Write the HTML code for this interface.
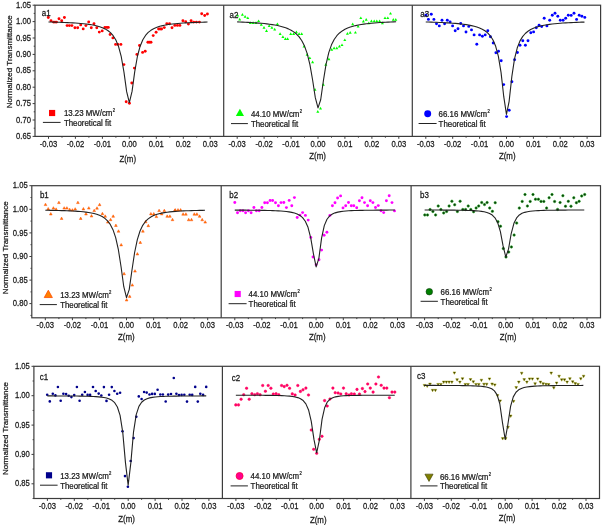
<!DOCTYPE html><html><head><meta charset="utf-8"><style>html,body{margin:0;padding:0;background:#fff;}svg{display:block;filter:blur(0.3px)}</style></head><body>
<svg width="602" height="525" viewBox="0 0 602 525" font-family='"Liberation Sans", sans-serif'>
<rect width="602" height="525" fill="#fff"/>
<text x="9.4" y="61.8" transform="rotate(-90 9.4 61.8)" text-anchor="middle" dominant-baseline="central" font-size="8" fill="#1a1a1a" stroke="#1a1a1a" stroke-width="0.25">Normalized Transmittance</text>
<line x1="32.6" y1="136.4" x2="35.0" y2="136.4" stroke="#3c3c3c" stroke-width="1"/>
<text transform="translate(30.90,136.40) scale(0.87,1.0)" text-anchor="end" dominant-baseline="central" font-size="8.8" fill="#1a1a1a" stroke="#1a1a1a" stroke-width="0.25" >0.65</text>
<line x1="32.6" y1="120.0" x2="35.0" y2="120.0" stroke="#3c3c3c" stroke-width="1"/>
<text transform="translate(30.90,120.00) scale(0.87,1.0)" text-anchor="end" dominant-baseline="central" font-size="8.8" fill="#1a1a1a" stroke="#1a1a1a" stroke-width="0.25" >0.70</text>
<line x1="32.6" y1="103.6" x2="35.0" y2="103.6" stroke="#3c3c3c" stroke-width="1"/>
<text transform="translate(30.90,103.60) scale(0.87,1.0)" text-anchor="end" dominant-baseline="central" font-size="8.8" fill="#1a1a1a" stroke="#1a1a1a" stroke-width="0.25" >0.75</text>
<line x1="32.6" y1="87.2" x2="35.0" y2="87.2" stroke="#3c3c3c" stroke-width="1"/>
<text transform="translate(30.90,87.20) scale(0.87,1.0)" text-anchor="end" dominant-baseline="central" font-size="8.8" fill="#1a1a1a" stroke="#1a1a1a" stroke-width="0.25" >0.80</text>
<line x1="32.6" y1="70.8" x2="35.0" y2="70.8" stroke="#3c3c3c" stroke-width="1"/>
<text transform="translate(30.90,70.80) scale(0.87,1.0)" text-anchor="end" dominant-baseline="central" font-size="8.8" fill="#1a1a1a" stroke="#1a1a1a" stroke-width="0.25" >0.85</text>
<line x1="32.6" y1="54.4" x2="35.0" y2="54.4" stroke="#3c3c3c" stroke-width="1"/>
<text transform="translate(30.90,54.40) scale(0.87,1.0)" text-anchor="end" dominant-baseline="central" font-size="8.8" fill="#1a1a1a" stroke="#1a1a1a" stroke-width="0.25" >0.90</text>
<line x1="32.6" y1="38.0" x2="35.0" y2="38.0" stroke="#3c3c3c" stroke-width="1"/>
<text transform="translate(30.90,38.00) scale(0.87,1.0)" text-anchor="end" dominant-baseline="central" font-size="8.8" fill="#1a1a1a" stroke="#1a1a1a" stroke-width="0.25" >0.95</text>
<line x1="32.6" y1="21.6" x2="35.0" y2="21.6" stroke="#3c3c3c" stroke-width="1"/>
<text transform="translate(30.90,21.60) scale(0.87,1.0)" text-anchor="end" dominant-baseline="central" font-size="8.8" fill="#1a1a1a" stroke="#1a1a1a" stroke-width="0.25" >1.00</text>
<line x1="32.6" y1="5.2" x2="35.0" y2="5.2" stroke="#3c3c3c" stroke-width="1"/>
<text transform="translate(30.90,5.20) scale(0.87,1.0)" text-anchor="end" dominant-baseline="central" font-size="8.8" fill="#1a1a1a" stroke="#1a1a1a" stroke-width="0.25" >1.05</text>
<line x1="33.7" y1="128.2" x2="35.0" y2="128.2" stroke="#3c3c3c" stroke-width="1"/>
<line x1="33.7" y1="111.8" x2="35.0" y2="111.8" stroke="#3c3c3c" stroke-width="1"/>
<line x1="33.7" y1="95.4" x2="35.0" y2="95.4" stroke="#3c3c3c" stroke-width="1"/>
<line x1="33.7" y1="79.0" x2="35.0" y2="79.0" stroke="#3c3c3c" stroke-width="1"/>
<line x1="33.7" y1="62.6" x2="35.0" y2="62.6" stroke="#3c3c3c" stroke-width="1"/>
<line x1="33.7" y1="46.2" x2="35.0" y2="46.2" stroke="#3c3c3c" stroke-width="1"/>
<line x1="33.7" y1="29.8" x2="35.0" y2="29.8" stroke="#3c3c3c" stroke-width="1"/>
<line x1="33.7" y1="13.4" x2="35.0" y2="13.4" stroke="#3c3c3c" stroke-width="1"/>
<line x1="48.5" y1="136.4" x2="48.5" y2="138.8" stroke="#3c3c3c" stroke-width="1"/>
<text transform="translate(48.48,144.10) scale(0.87,1.0)" text-anchor="middle" dominant-baseline="central" font-size="8.8" fill="#1a1a1a" stroke="#1a1a1a" stroke-width="0.25" >-0.03</text>
<line x1="75.4" y1="136.4" x2="75.4" y2="138.8" stroke="#3c3c3c" stroke-width="1"/>
<text transform="translate(75.44,144.10) scale(0.87,1.0)" text-anchor="middle" dominant-baseline="central" font-size="8.8" fill="#1a1a1a" stroke="#1a1a1a" stroke-width="0.25" >-0.02</text>
<line x1="102.4" y1="136.4" x2="102.4" y2="138.8" stroke="#3c3c3c" stroke-width="1"/>
<text transform="translate(102.39,144.10) scale(0.87,1.0)" text-anchor="middle" dominant-baseline="central" font-size="8.8" fill="#1a1a1a" stroke="#1a1a1a" stroke-width="0.25" >-0.01</text>
<line x1="129.3" y1="136.4" x2="129.3" y2="138.8" stroke="#3c3c3c" stroke-width="1"/>
<text transform="translate(129.35,144.10) scale(0.87,1.0)" text-anchor="middle" dominant-baseline="central" font-size="8.8" fill="#1a1a1a" stroke="#1a1a1a" stroke-width="0.25" >0.00</text>
<line x1="156.3" y1="136.4" x2="156.3" y2="138.8" stroke="#3c3c3c" stroke-width="1"/>
<text transform="translate(156.31,144.10) scale(0.87,1.0)" text-anchor="middle" dominant-baseline="central" font-size="8.8" fill="#1a1a1a" stroke="#1a1a1a" stroke-width="0.25" >0.01</text>
<line x1="183.3" y1="136.4" x2="183.3" y2="138.8" stroke="#3c3c3c" stroke-width="1"/>
<text transform="translate(183.26,144.10) scale(0.87,1.0)" text-anchor="middle" dominant-baseline="central" font-size="8.8" fill="#1a1a1a" stroke="#1a1a1a" stroke-width="0.25" >0.02</text>
<line x1="210.2" y1="136.4" x2="210.2" y2="138.8" stroke="#3c3c3c" stroke-width="1"/>
<text transform="translate(210.22,144.10) scale(0.87,1.0)" text-anchor="middle" dominant-baseline="central" font-size="8.8" fill="#1a1a1a" stroke="#1a1a1a" stroke-width="0.25" >0.03</text>
<line x1="62.0" y1="136.4" x2="62.0" y2="137.7" stroke="#3c3c3c" stroke-width="1"/>
<line x1="88.9" y1="136.4" x2="88.9" y2="137.7" stroke="#3c3c3c" stroke-width="1"/>
<line x1="115.9" y1="136.4" x2="115.9" y2="137.7" stroke="#3c3c3c" stroke-width="1"/>
<line x1="142.8" y1="136.4" x2="142.8" y2="137.7" stroke="#3c3c3c" stroke-width="1"/>
<line x1="169.8" y1="136.4" x2="169.8" y2="137.7" stroke="#3c3c3c" stroke-width="1"/>
<line x1="196.7" y1="136.4" x2="196.7" y2="137.7" stroke="#3c3c3c" stroke-width="1"/>
<line x1="237.2" y1="136.4" x2="237.2" y2="138.8" stroke="#3c3c3c" stroke-width="1"/>
<text transform="translate(237.17,144.10) scale(0.87,1.0)" text-anchor="middle" dominant-baseline="central" font-size="8.8" fill="#1a1a1a" stroke="#1a1a1a" stroke-width="0.25" >-0.03</text>
<line x1="264.1" y1="136.4" x2="264.1" y2="138.8" stroke="#3c3c3c" stroke-width="1"/>
<text transform="translate(264.11,144.10) scale(0.87,1.0)" text-anchor="middle" dominant-baseline="central" font-size="8.8" fill="#1a1a1a" stroke="#1a1a1a" stroke-width="0.25" >-0.02</text>
<line x1="291.1" y1="136.4" x2="291.1" y2="138.8" stroke="#3c3c3c" stroke-width="1"/>
<text transform="translate(291.06,144.10) scale(0.87,1.0)" text-anchor="middle" dominant-baseline="central" font-size="8.8" fill="#1a1a1a" stroke="#1a1a1a" stroke-width="0.25" >-0.01</text>
<line x1="318.0" y1="136.4" x2="318.0" y2="138.8" stroke="#3c3c3c" stroke-width="1"/>
<text transform="translate(318.00,144.10) scale(0.87,1.0)" text-anchor="middle" dominant-baseline="central" font-size="8.8" fill="#1a1a1a" stroke="#1a1a1a" stroke-width="0.25" >0.00</text>
<line x1="344.9" y1="136.4" x2="344.9" y2="138.8" stroke="#3c3c3c" stroke-width="1"/>
<text transform="translate(344.94,144.10) scale(0.87,1.0)" text-anchor="middle" dominant-baseline="central" font-size="8.8" fill="#1a1a1a" stroke="#1a1a1a" stroke-width="0.25" >0.01</text>
<line x1="371.9" y1="136.4" x2="371.9" y2="138.8" stroke="#3c3c3c" stroke-width="1"/>
<text transform="translate(371.89,144.10) scale(0.87,1.0)" text-anchor="middle" dominant-baseline="central" font-size="8.8" fill="#1a1a1a" stroke="#1a1a1a" stroke-width="0.25" >0.02</text>
<line x1="398.8" y1="136.4" x2="398.8" y2="138.8" stroke="#3c3c3c" stroke-width="1"/>
<text transform="translate(398.83,144.10) scale(0.87,1.0)" text-anchor="middle" dominant-baseline="central" font-size="8.8" fill="#1a1a1a" stroke="#1a1a1a" stroke-width="0.25" >0.03</text>
<line x1="250.6" y1="136.4" x2="250.6" y2="137.7" stroke="#3c3c3c" stroke-width="1"/>
<line x1="277.6" y1="136.4" x2="277.6" y2="137.7" stroke="#3c3c3c" stroke-width="1"/>
<line x1="304.5" y1="136.4" x2="304.5" y2="137.7" stroke="#3c3c3c" stroke-width="1"/>
<line x1="331.5" y1="136.4" x2="331.5" y2="137.7" stroke="#3c3c3c" stroke-width="1"/>
<line x1="358.4" y1="136.4" x2="358.4" y2="137.7" stroke="#3c3c3c" stroke-width="1"/>
<line x1="385.4" y1="136.4" x2="385.4" y2="137.7" stroke="#3c3c3c" stroke-width="1"/>
<line x1="425.8" y1="136.4" x2="425.8" y2="138.8" stroke="#3c3c3c" stroke-width="1"/>
<text transform="translate(425.75,144.10) scale(0.87,1.0)" text-anchor="middle" dominant-baseline="central" font-size="8.8" fill="#1a1a1a" stroke="#1a1a1a" stroke-width="0.25" >-0.03</text>
<line x1="452.7" y1="136.4" x2="452.7" y2="138.8" stroke="#3c3c3c" stroke-width="1"/>
<text transform="translate(452.65,144.10) scale(0.87,1.0)" text-anchor="middle" dominant-baseline="central" font-size="8.8" fill="#1a1a1a" stroke="#1a1a1a" stroke-width="0.25" >-0.02</text>
<line x1="479.6" y1="136.4" x2="479.6" y2="138.8" stroke="#3c3c3c" stroke-width="1"/>
<text transform="translate(479.55,144.10) scale(0.87,1.0)" text-anchor="middle" dominant-baseline="central" font-size="8.8" fill="#1a1a1a" stroke="#1a1a1a" stroke-width="0.25" >-0.01</text>
<line x1="506.5" y1="136.4" x2="506.5" y2="138.8" stroke="#3c3c3c" stroke-width="1"/>
<text transform="translate(506.45,144.10) scale(0.87,1.0)" text-anchor="middle" dominant-baseline="central" font-size="8.8" fill="#1a1a1a" stroke="#1a1a1a" stroke-width="0.25" >0.00</text>
<line x1="533.4" y1="136.4" x2="533.4" y2="138.8" stroke="#3c3c3c" stroke-width="1"/>
<text transform="translate(533.35,144.10) scale(0.87,1.0)" text-anchor="middle" dominant-baseline="central" font-size="8.8" fill="#1a1a1a" stroke="#1a1a1a" stroke-width="0.25" >0.01</text>
<line x1="560.2" y1="136.4" x2="560.2" y2="138.8" stroke="#3c3c3c" stroke-width="1"/>
<text transform="translate(560.25,144.10) scale(0.87,1.0)" text-anchor="middle" dominant-baseline="central" font-size="8.8" fill="#1a1a1a" stroke="#1a1a1a" stroke-width="0.25" >0.02</text>
<line x1="587.1" y1="136.4" x2="587.1" y2="138.8" stroke="#3c3c3c" stroke-width="1"/>
<text transform="translate(587.15,144.10) scale(0.87,1.0)" text-anchor="middle" dominant-baseline="central" font-size="8.8" fill="#1a1a1a" stroke="#1a1a1a" stroke-width="0.25" >0.03</text>
<line x1="439.2" y1="136.4" x2="439.2" y2="137.7" stroke="#3c3c3c" stroke-width="1"/>
<line x1="466.1" y1="136.4" x2="466.1" y2="137.7" stroke="#3c3c3c" stroke-width="1"/>
<line x1="493.0" y1="136.4" x2="493.0" y2="137.7" stroke="#3c3c3c" stroke-width="1"/>
<line x1="519.9" y1="136.4" x2="519.9" y2="137.7" stroke="#3c3c3c" stroke-width="1"/>
<line x1="546.8" y1="136.4" x2="546.8" y2="137.7" stroke="#3c3c3c" stroke-width="1"/>
<line x1="573.7" y1="136.4" x2="573.7" y2="137.7" stroke="#3c3c3c" stroke-width="1"/>
<text x="5.7" y="247.7" transform="rotate(-90 5.7 247.7)" text-anchor="middle" dominant-baseline="central" font-size="8" fill="#1a1a1a" stroke="#1a1a1a" stroke-width="0.25">Normalized Transmittance</text>
<line x1="29.4" y1="303.6" x2="31.8" y2="303.6" stroke="#3c3c3c" stroke-width="1"/>
<text transform="translate(27.70,303.65) scale(0.87,1.0)" text-anchor="end" dominant-baseline="central" font-size="8.8" fill="#1a1a1a" stroke="#1a1a1a" stroke-width="0.25" >0.80</text>
<line x1="29.4" y1="280.1" x2="31.8" y2="280.1" stroke="#3c3c3c" stroke-width="1"/>
<text transform="translate(27.70,280.06) scale(0.87,1.0)" text-anchor="end" dominant-baseline="central" font-size="8.8" fill="#1a1a1a" stroke="#1a1a1a" stroke-width="0.25" >0.85</text>
<line x1="29.4" y1="256.5" x2="31.8" y2="256.5" stroke="#3c3c3c" stroke-width="1"/>
<text transform="translate(27.70,256.47) scale(0.87,1.0)" text-anchor="end" dominant-baseline="central" font-size="8.8" fill="#1a1a1a" stroke="#1a1a1a" stroke-width="0.25" >0.90</text>
<line x1="29.4" y1="232.9" x2="31.8" y2="232.9" stroke="#3c3c3c" stroke-width="1"/>
<text transform="translate(27.70,232.88) scale(0.87,1.0)" text-anchor="end" dominant-baseline="central" font-size="8.8" fill="#1a1a1a" stroke="#1a1a1a" stroke-width="0.25" >0.95</text>
<line x1="29.4" y1="209.3" x2="31.8" y2="209.3" stroke="#3c3c3c" stroke-width="1"/>
<text transform="translate(27.70,209.29) scale(0.87,1.0)" text-anchor="end" dominant-baseline="central" font-size="8.8" fill="#1a1a1a" stroke="#1a1a1a" stroke-width="0.25" >1.00</text>
<line x1="29.4" y1="185.7" x2="31.8" y2="185.7" stroke="#3c3c3c" stroke-width="1"/>
<text transform="translate(27.70,185.70) scale(0.87,1.0)" text-anchor="end" dominant-baseline="central" font-size="8.8" fill="#1a1a1a" stroke="#1a1a1a" stroke-width="0.25" >1.05</text>
<line x1="30.5" y1="315.4" x2="31.8" y2="315.4" stroke="#3c3c3c" stroke-width="1"/>
<line x1="30.5" y1="291.9" x2="31.8" y2="291.9" stroke="#3c3c3c" stroke-width="1"/>
<line x1="30.5" y1="268.3" x2="31.8" y2="268.3" stroke="#3c3c3c" stroke-width="1"/>
<line x1="30.5" y1="244.7" x2="31.8" y2="244.7" stroke="#3c3c3c" stroke-width="1"/>
<line x1="30.5" y1="221.1" x2="31.8" y2="221.1" stroke="#3c3c3c" stroke-width="1"/>
<line x1="30.5" y1="197.5" x2="31.8" y2="197.5" stroke="#3c3c3c" stroke-width="1"/>
<line x1="45.3" y1="317.8" x2="45.3" y2="320.2" stroke="#3c3c3c" stroke-width="1"/>
<text transform="translate(45.33,325.50) scale(0.87,1.0)" text-anchor="middle" dominant-baseline="central" font-size="8.8" fill="#1a1a1a" stroke="#1a1a1a" stroke-width="0.25" >-0.03</text>
<line x1="72.4" y1="317.8" x2="72.4" y2="320.2" stroke="#3c3c3c" stroke-width="1"/>
<text transform="translate(72.39,325.50) scale(0.87,1.0)" text-anchor="middle" dominant-baseline="central" font-size="8.8" fill="#1a1a1a" stroke="#1a1a1a" stroke-width="0.25" >-0.02</text>
<line x1="99.4" y1="317.8" x2="99.4" y2="320.2" stroke="#3c3c3c" stroke-width="1"/>
<text transform="translate(99.44,325.50) scale(0.87,1.0)" text-anchor="middle" dominant-baseline="central" font-size="8.8" fill="#1a1a1a" stroke="#1a1a1a" stroke-width="0.25" >-0.01</text>
<line x1="126.5" y1="317.8" x2="126.5" y2="320.2" stroke="#3c3c3c" stroke-width="1"/>
<text transform="translate(126.50,325.50) scale(0.87,1.0)" text-anchor="middle" dominant-baseline="central" font-size="8.8" fill="#1a1a1a" stroke="#1a1a1a" stroke-width="0.25" >0.00</text>
<line x1="153.6" y1="317.8" x2="153.6" y2="320.2" stroke="#3c3c3c" stroke-width="1"/>
<text transform="translate(153.56,325.50) scale(0.87,1.0)" text-anchor="middle" dominant-baseline="central" font-size="8.8" fill="#1a1a1a" stroke="#1a1a1a" stroke-width="0.25" >0.01</text>
<line x1="180.6" y1="317.8" x2="180.6" y2="320.2" stroke="#3c3c3c" stroke-width="1"/>
<text transform="translate(180.61,325.50) scale(0.87,1.0)" text-anchor="middle" dominant-baseline="central" font-size="8.8" fill="#1a1a1a" stroke="#1a1a1a" stroke-width="0.25" >0.02</text>
<line x1="207.7" y1="317.8" x2="207.7" y2="320.2" stroke="#3c3c3c" stroke-width="1"/>
<text transform="translate(207.67,325.50) scale(0.87,1.0)" text-anchor="middle" dominant-baseline="central" font-size="8.8" fill="#1a1a1a" stroke="#1a1a1a" stroke-width="0.25" >0.03</text>
<line x1="58.9" y1="317.8" x2="58.9" y2="319.1" stroke="#3c3c3c" stroke-width="1"/>
<line x1="85.9" y1="317.8" x2="85.9" y2="319.1" stroke="#3c3c3c" stroke-width="1"/>
<line x1="113.0" y1="317.8" x2="113.0" y2="319.1" stroke="#3c3c3c" stroke-width="1"/>
<line x1="140.0" y1="317.8" x2="140.0" y2="319.1" stroke="#3c3c3c" stroke-width="1"/>
<line x1="167.1" y1="317.8" x2="167.1" y2="319.1" stroke="#3c3c3c" stroke-width="1"/>
<line x1="194.1" y1="317.8" x2="194.1" y2="319.1" stroke="#3c3c3c" stroke-width="1"/>
<line x1="234.8" y1="317.8" x2="234.8" y2="320.2" stroke="#3c3c3c" stroke-width="1"/>
<text transform="translate(234.76,325.50) scale(0.87,1.0)" text-anchor="middle" dominant-baseline="central" font-size="8.8" fill="#1a1a1a" stroke="#1a1a1a" stroke-width="0.25" >-0.03</text>
<line x1="261.9" y1="317.8" x2="261.9" y2="320.2" stroke="#3c3c3c" stroke-width="1"/>
<text transform="translate(261.89,325.50) scale(0.87,1.0)" text-anchor="middle" dominant-baseline="central" font-size="8.8" fill="#1a1a1a" stroke="#1a1a1a" stroke-width="0.25" >-0.02</text>
<line x1="289.0" y1="317.8" x2="289.0" y2="320.2" stroke="#3c3c3c" stroke-width="1"/>
<text transform="translate(289.02,325.50) scale(0.87,1.0)" text-anchor="middle" dominant-baseline="central" font-size="8.8" fill="#1a1a1a" stroke="#1a1a1a" stroke-width="0.25" >-0.01</text>
<line x1="316.1" y1="317.8" x2="316.1" y2="320.2" stroke="#3c3c3c" stroke-width="1"/>
<text transform="translate(316.15,325.50) scale(0.87,1.0)" text-anchor="middle" dominant-baseline="central" font-size="8.8" fill="#1a1a1a" stroke="#1a1a1a" stroke-width="0.25" >0.00</text>
<line x1="343.3" y1="317.8" x2="343.3" y2="320.2" stroke="#3c3c3c" stroke-width="1"/>
<text transform="translate(343.28,325.50) scale(0.87,1.0)" text-anchor="middle" dominant-baseline="central" font-size="8.8" fill="#1a1a1a" stroke="#1a1a1a" stroke-width="0.25" >0.01</text>
<line x1="370.4" y1="317.8" x2="370.4" y2="320.2" stroke="#3c3c3c" stroke-width="1"/>
<text transform="translate(370.41,325.50) scale(0.87,1.0)" text-anchor="middle" dominant-baseline="central" font-size="8.8" fill="#1a1a1a" stroke="#1a1a1a" stroke-width="0.25" >0.02</text>
<line x1="397.5" y1="317.8" x2="397.5" y2="320.2" stroke="#3c3c3c" stroke-width="1"/>
<text transform="translate(397.54,325.50) scale(0.87,1.0)" text-anchor="middle" dominant-baseline="central" font-size="8.8" fill="#1a1a1a" stroke="#1a1a1a" stroke-width="0.25" >0.03</text>
<line x1="248.3" y1="317.8" x2="248.3" y2="319.1" stroke="#3c3c3c" stroke-width="1"/>
<line x1="275.5" y1="317.8" x2="275.5" y2="319.1" stroke="#3c3c3c" stroke-width="1"/>
<line x1="302.6" y1="317.8" x2="302.6" y2="319.1" stroke="#3c3c3c" stroke-width="1"/>
<line x1="329.7" y1="317.8" x2="329.7" y2="319.1" stroke="#3c3c3c" stroke-width="1"/>
<line x1="356.8" y1="317.8" x2="356.8" y2="319.1" stroke="#3c3c3c" stroke-width="1"/>
<line x1="384.0" y1="317.8" x2="384.0" y2="319.1" stroke="#3c3c3c" stroke-width="1"/>
<line x1="424.6" y1="317.8" x2="424.6" y2="320.2" stroke="#3c3c3c" stroke-width="1"/>
<text transform="translate(424.63,325.50) scale(0.87,1.0)" text-anchor="middle" dominant-baseline="central" font-size="8.8" fill="#1a1a1a" stroke="#1a1a1a" stroke-width="0.25" >-0.03</text>
<line x1="451.7" y1="317.8" x2="451.7" y2="320.2" stroke="#3c3c3c" stroke-width="1"/>
<text transform="translate(451.69,325.50) scale(0.87,1.0)" text-anchor="middle" dominant-baseline="central" font-size="8.8" fill="#1a1a1a" stroke="#1a1a1a" stroke-width="0.25" >-0.02</text>
<line x1="478.7" y1="317.8" x2="478.7" y2="320.2" stroke="#3c3c3c" stroke-width="1"/>
<text transform="translate(478.74,325.50) scale(0.87,1.0)" text-anchor="middle" dominant-baseline="central" font-size="8.8" fill="#1a1a1a" stroke="#1a1a1a" stroke-width="0.25" >-0.01</text>
<line x1="505.8" y1="317.8" x2="505.8" y2="320.2" stroke="#3c3c3c" stroke-width="1"/>
<text transform="translate(505.80,325.50) scale(0.87,1.0)" text-anchor="middle" dominant-baseline="central" font-size="8.8" fill="#1a1a1a" stroke="#1a1a1a" stroke-width="0.25" >0.00</text>
<line x1="532.9" y1="317.8" x2="532.9" y2="320.2" stroke="#3c3c3c" stroke-width="1"/>
<text transform="translate(532.86,325.50) scale(0.87,1.0)" text-anchor="middle" dominant-baseline="central" font-size="8.8" fill="#1a1a1a" stroke="#1a1a1a" stroke-width="0.25" >0.01</text>
<line x1="559.9" y1="317.8" x2="559.9" y2="320.2" stroke="#3c3c3c" stroke-width="1"/>
<text transform="translate(559.91,325.50) scale(0.87,1.0)" text-anchor="middle" dominant-baseline="central" font-size="8.8" fill="#1a1a1a" stroke="#1a1a1a" stroke-width="0.25" >0.02</text>
<line x1="587.0" y1="317.8" x2="587.0" y2="320.2" stroke="#3c3c3c" stroke-width="1"/>
<text transform="translate(586.97,325.50) scale(0.87,1.0)" text-anchor="middle" dominant-baseline="central" font-size="8.8" fill="#1a1a1a" stroke="#1a1a1a" stroke-width="0.25" >0.03</text>
<line x1="438.2" y1="317.8" x2="438.2" y2="319.1" stroke="#3c3c3c" stroke-width="1"/>
<line x1="465.2" y1="317.8" x2="465.2" y2="319.1" stroke="#3c3c3c" stroke-width="1"/>
<line x1="492.3" y1="317.8" x2="492.3" y2="319.1" stroke="#3c3c3c" stroke-width="1"/>
<line x1="519.3" y1="317.8" x2="519.3" y2="319.1" stroke="#3c3c3c" stroke-width="1"/>
<line x1="546.4" y1="317.8" x2="546.4" y2="319.1" stroke="#3c3c3c" stroke-width="1"/>
<line x1="573.4" y1="317.8" x2="573.4" y2="319.1" stroke="#3c3c3c" stroke-width="1"/>
<text x="5.3" y="428.6" transform="rotate(-90 5.3 428.6)" text-anchor="middle" dominant-baseline="central" font-size="8" fill="#1a1a1a" stroke="#1a1a1a" stroke-width="0.25">Normalized Transmittance</text>
<line x1="31.5" y1="483.8" x2="33.9" y2="483.8" stroke="#3c3c3c" stroke-width="1"/>
<text transform="translate(29.80,483.81) scale(0.87,1.0)" text-anchor="end" dominant-baseline="central" font-size="8.8" fill="#1a1a1a" stroke="#1a1a1a" stroke-width="0.25" >0.85</text>
<line x1="31.5" y1="454.4" x2="33.9" y2="454.4" stroke="#3c3c3c" stroke-width="1"/>
<text transform="translate(29.80,454.43) scale(0.87,1.0)" text-anchor="end" dominant-baseline="central" font-size="8.8" fill="#1a1a1a" stroke="#1a1a1a" stroke-width="0.25" >0.90</text>
<line x1="31.5" y1="425.1" x2="33.9" y2="425.1" stroke="#3c3c3c" stroke-width="1"/>
<text transform="translate(29.80,425.06) scale(0.87,1.0)" text-anchor="end" dominant-baseline="central" font-size="8.8" fill="#1a1a1a" stroke="#1a1a1a" stroke-width="0.25" >0.95</text>
<line x1="31.5" y1="395.7" x2="33.9" y2="395.7" stroke="#3c3c3c" stroke-width="1"/>
<text transform="translate(29.80,395.68) scale(0.87,1.0)" text-anchor="end" dominant-baseline="central" font-size="8.8" fill="#1a1a1a" stroke="#1a1a1a" stroke-width="0.25" >1.00</text>
<line x1="31.5" y1="366.3" x2="33.9" y2="366.3" stroke="#3c3c3c" stroke-width="1"/>
<text transform="translate(29.80,366.30) scale(0.87,1.0)" text-anchor="end" dominant-baseline="central" font-size="8.8" fill="#1a1a1a" stroke="#1a1a1a" stroke-width="0.25" >1.05</text>
<line x1="32.6" y1="498.5" x2="33.9" y2="498.5" stroke="#3c3c3c" stroke-width="1"/>
<line x1="32.6" y1="469.1" x2="33.9" y2="469.1" stroke="#3c3c3c" stroke-width="1"/>
<line x1="32.6" y1="439.7" x2="33.9" y2="439.7" stroke="#3c3c3c" stroke-width="1"/>
<line x1="32.6" y1="410.4" x2="33.9" y2="410.4" stroke="#3c3c3c" stroke-width="1"/>
<line x1="32.6" y1="381.0" x2="33.9" y2="381.0" stroke="#3c3c3c" stroke-width="1"/>
<line x1="47.4" y1="498.5" x2="47.4" y2="500.9" stroke="#3c3c3c" stroke-width="1"/>
<text transform="translate(47.36,506.00) scale(0.87,1.0)" text-anchor="middle" dominant-baseline="central" font-size="8.8" fill="#1a1a1a" stroke="#1a1a1a" stroke-width="0.25" >-0.03</text>
<line x1="74.3" y1="498.5" x2="74.3" y2="500.9" stroke="#3c3c3c" stroke-width="1"/>
<text transform="translate(74.29,506.00) scale(0.87,1.0)" text-anchor="middle" dominant-baseline="central" font-size="8.8" fill="#1a1a1a" stroke="#1a1a1a" stroke-width="0.25" >-0.02</text>
<line x1="101.2" y1="498.5" x2="101.2" y2="500.9" stroke="#3c3c3c" stroke-width="1"/>
<text transform="translate(101.22,506.00) scale(0.87,1.0)" text-anchor="middle" dominant-baseline="central" font-size="8.8" fill="#1a1a1a" stroke="#1a1a1a" stroke-width="0.25" >-0.01</text>
<line x1="128.2" y1="498.5" x2="128.2" y2="500.9" stroke="#3c3c3c" stroke-width="1"/>
<text transform="translate(128.15,506.00) scale(0.87,1.0)" text-anchor="middle" dominant-baseline="central" font-size="8.8" fill="#1a1a1a" stroke="#1a1a1a" stroke-width="0.25" >0.00</text>
<line x1="155.1" y1="498.5" x2="155.1" y2="500.9" stroke="#3c3c3c" stroke-width="1"/>
<text transform="translate(155.08,506.00) scale(0.87,1.0)" text-anchor="middle" dominant-baseline="central" font-size="8.8" fill="#1a1a1a" stroke="#1a1a1a" stroke-width="0.25" >0.01</text>
<line x1="182.0" y1="498.5" x2="182.0" y2="500.9" stroke="#3c3c3c" stroke-width="1"/>
<text transform="translate(182.01,506.00) scale(0.87,1.0)" text-anchor="middle" dominant-baseline="central" font-size="8.8" fill="#1a1a1a" stroke="#1a1a1a" stroke-width="0.25" >0.02</text>
<line x1="208.9" y1="498.5" x2="208.9" y2="500.9" stroke="#3c3c3c" stroke-width="1"/>
<text transform="translate(208.94,506.00) scale(0.87,1.0)" text-anchor="middle" dominant-baseline="central" font-size="8.8" fill="#1a1a1a" stroke="#1a1a1a" stroke-width="0.25" >0.03</text>
<line x1="60.8" y1="498.5" x2="60.8" y2="499.8" stroke="#3c3c3c" stroke-width="1"/>
<line x1="87.8" y1="498.5" x2="87.8" y2="499.8" stroke="#3c3c3c" stroke-width="1"/>
<line x1="114.7" y1="498.5" x2="114.7" y2="499.8" stroke="#3c3c3c" stroke-width="1"/>
<line x1="141.6" y1="498.5" x2="141.6" y2="499.8" stroke="#3c3c3c" stroke-width="1"/>
<line x1="168.5" y1="498.5" x2="168.5" y2="499.8" stroke="#3c3c3c" stroke-width="1"/>
<line x1="195.5" y1="498.5" x2="195.5" y2="499.8" stroke="#3c3c3c" stroke-width="1"/>
<line x1="235.9" y1="498.5" x2="235.9" y2="500.9" stroke="#3c3c3c" stroke-width="1"/>
<text transform="translate(235.86,506.00) scale(0.87,1.0)" text-anchor="middle" dominant-baseline="central" font-size="8.8" fill="#1a1a1a" stroke="#1a1a1a" stroke-width="0.25" >-0.03</text>
<line x1="262.8" y1="498.5" x2="262.8" y2="500.9" stroke="#3c3c3c" stroke-width="1"/>
<text transform="translate(262.79,506.00) scale(0.87,1.0)" text-anchor="middle" dominant-baseline="central" font-size="8.8" fill="#1a1a1a" stroke="#1a1a1a" stroke-width="0.25" >-0.02</text>
<line x1="289.7" y1="498.5" x2="289.7" y2="500.9" stroke="#3c3c3c" stroke-width="1"/>
<text transform="translate(289.72,506.00) scale(0.87,1.0)" text-anchor="middle" dominant-baseline="central" font-size="8.8" fill="#1a1a1a" stroke="#1a1a1a" stroke-width="0.25" >-0.01</text>
<line x1="316.6" y1="498.5" x2="316.6" y2="500.9" stroke="#3c3c3c" stroke-width="1"/>
<text transform="translate(316.65,506.00) scale(0.87,1.0)" text-anchor="middle" dominant-baseline="central" font-size="8.8" fill="#1a1a1a" stroke="#1a1a1a" stroke-width="0.25" >0.00</text>
<line x1="343.6" y1="498.5" x2="343.6" y2="500.9" stroke="#3c3c3c" stroke-width="1"/>
<text transform="translate(343.58,506.00) scale(0.87,1.0)" text-anchor="middle" dominant-baseline="central" font-size="8.8" fill="#1a1a1a" stroke="#1a1a1a" stroke-width="0.25" >0.01</text>
<line x1="370.5" y1="498.5" x2="370.5" y2="500.9" stroke="#3c3c3c" stroke-width="1"/>
<text transform="translate(370.51,506.00) scale(0.87,1.0)" text-anchor="middle" dominant-baseline="central" font-size="8.8" fill="#1a1a1a" stroke="#1a1a1a" stroke-width="0.25" >0.02</text>
<line x1="397.4" y1="498.5" x2="397.4" y2="500.9" stroke="#3c3c3c" stroke-width="1"/>
<text transform="translate(397.44,506.00) scale(0.87,1.0)" text-anchor="middle" dominant-baseline="central" font-size="8.8" fill="#1a1a1a" stroke="#1a1a1a" stroke-width="0.25" >0.03</text>
<line x1="249.3" y1="498.5" x2="249.3" y2="499.8" stroke="#3c3c3c" stroke-width="1"/>
<line x1="276.3" y1="498.5" x2="276.3" y2="499.8" stroke="#3c3c3c" stroke-width="1"/>
<line x1="303.2" y1="498.5" x2="303.2" y2="499.8" stroke="#3c3c3c" stroke-width="1"/>
<line x1="330.1" y1="498.5" x2="330.1" y2="499.8" stroke="#3c3c3c" stroke-width="1"/>
<line x1="357.0" y1="498.5" x2="357.0" y2="499.8" stroke="#3c3c3c" stroke-width="1"/>
<line x1="384.0" y1="498.5" x2="384.0" y2="499.8" stroke="#3c3c3c" stroke-width="1"/>
<line x1="424.4" y1="498.5" x2="424.4" y2="500.9" stroke="#3c3c3c" stroke-width="1"/>
<text transform="translate(424.37,506.00) scale(0.87,1.0)" text-anchor="middle" dominant-baseline="central" font-size="8.8" fill="#1a1a1a" stroke="#1a1a1a" stroke-width="0.25" >-0.03</text>
<line x1="451.3" y1="498.5" x2="451.3" y2="500.9" stroke="#3c3c3c" stroke-width="1"/>
<text transform="translate(451.31,506.00) scale(0.87,1.0)" text-anchor="middle" dominant-baseline="central" font-size="8.8" fill="#1a1a1a" stroke="#1a1a1a" stroke-width="0.25" >-0.02</text>
<line x1="478.3" y1="498.5" x2="478.3" y2="500.9" stroke="#3c3c3c" stroke-width="1"/>
<text transform="translate(478.26,506.00) scale(0.87,1.0)" text-anchor="middle" dominant-baseline="central" font-size="8.8" fill="#1a1a1a" stroke="#1a1a1a" stroke-width="0.25" >-0.01</text>
<line x1="505.2" y1="498.5" x2="505.2" y2="500.9" stroke="#3c3c3c" stroke-width="1"/>
<text transform="translate(505.20,506.00) scale(0.87,1.0)" text-anchor="middle" dominant-baseline="central" font-size="8.8" fill="#1a1a1a" stroke="#1a1a1a" stroke-width="0.25" >0.00</text>
<line x1="532.1" y1="498.5" x2="532.1" y2="500.9" stroke="#3c3c3c" stroke-width="1"/>
<text transform="translate(532.14,506.00) scale(0.87,1.0)" text-anchor="middle" dominant-baseline="central" font-size="8.8" fill="#1a1a1a" stroke="#1a1a1a" stroke-width="0.25" >0.01</text>
<line x1="559.1" y1="498.5" x2="559.1" y2="500.9" stroke="#3c3c3c" stroke-width="1"/>
<text transform="translate(559.09,506.00) scale(0.87,1.0)" text-anchor="middle" dominant-baseline="central" font-size="8.8" fill="#1a1a1a" stroke="#1a1a1a" stroke-width="0.25" >0.02</text>
<line x1="586.0" y1="498.5" x2="586.0" y2="500.9" stroke="#3c3c3c" stroke-width="1"/>
<text transform="translate(586.03,506.00) scale(0.87,1.0)" text-anchor="middle" dominant-baseline="central" font-size="8.8" fill="#1a1a1a" stroke="#1a1a1a" stroke-width="0.25" >0.03</text>
<line x1="437.8" y1="498.5" x2="437.8" y2="499.8" stroke="#3c3c3c" stroke-width="1"/>
<line x1="464.8" y1="498.5" x2="464.8" y2="499.8" stroke="#3c3c3c" stroke-width="1"/>
<line x1="491.7" y1="498.5" x2="491.7" y2="499.8" stroke="#3c3c3c" stroke-width="1"/>
<line x1="518.7" y1="498.5" x2="518.7" y2="499.8" stroke="#3c3c3c" stroke-width="1"/>
<line x1="545.6" y1="498.5" x2="545.6" y2="499.8" stroke="#3c3c3c" stroke-width="1"/>
<line x1="572.6" y1="498.5" x2="572.6" y2="499.8" stroke="#3c3c3c" stroke-width="1"/>
<circle cx="48.3" cy="17.5" r="1.45" fill="#ff0000"/>
<circle cx="51.0" cy="20.8" r="1.45" fill="#ff0000"/>
<circle cx="53.5" cy="22.1" r="1.45" fill="#ff0000"/>
<circle cx="55.0" cy="22.1" r="1.45" fill="#ff0000"/>
<circle cx="56.5" cy="22.1" r="1.45" fill="#ff0000"/>
<circle cx="59.0" cy="18.8" r="1.45" fill="#ff0000"/>
<circle cx="61.7" cy="20.8" r="1.45" fill="#ff0000"/>
<circle cx="64.4" cy="17.5" r="1.45" fill="#ff0000"/>
<circle cx="67.1" cy="25.6" r="1.45" fill="#ff0000"/>
<circle cx="69.4" cy="25.6" r="1.45" fill="#ff0000"/>
<circle cx="71.9" cy="25.6" r="1.45" fill="#ff0000"/>
<circle cx="74.9" cy="27.7" r="1.45" fill="#ff0000"/>
<circle cx="77.7" cy="27.7" r="1.45" fill="#ff0000"/>
<circle cx="80.7" cy="24.9" r="1.45" fill="#ff0000"/>
<circle cx="83.2" cy="28.9" r="1.45" fill="#ff0000"/>
<circle cx="85.9" cy="25.6" r="1.45" fill="#ff0000"/>
<circle cx="88.7" cy="21.9" r="1.45" fill="#ff0000"/>
<circle cx="91.3" cy="27.7" r="1.45" fill="#ff0000"/>
<circle cx="94.0" cy="23.7" r="1.45" fill="#ff0000"/>
<circle cx="96.8" cy="27.7" r="1.45" fill="#ff0000"/>
<circle cx="99.3" cy="32.1" r="1.45" fill="#ff0000"/>
<circle cx="102.2" cy="30.9" r="1.45" fill="#ff0000"/>
<circle cx="104.9" cy="27.4" r="1.45" fill="#ff0000"/>
<circle cx="106.8" cy="27.4" r="1.45" fill="#ff0000"/>
<circle cx="108.3" cy="27.4" r="1.45" fill="#ff0000"/>
<circle cx="110.1" cy="34.5" r="1.45" fill="#ff0000"/>
<circle cx="112.9" cy="37.9" r="1.45" fill="#ff0000"/>
<circle cx="115.6" cy="44.4" r="1.45" fill="#ff0000"/>
<circle cx="117.9" cy="44.4" r="1.45" fill="#ff0000"/>
<circle cx="120.9" cy="44.4" r="1.45" fill="#ff0000"/>
<circle cx="123.9" cy="64.6" r="1.45" fill="#ff0000"/>
<circle cx="126.2" cy="101.8" r="1.45" fill="#ff0000"/>
<circle cx="129.4" cy="103.2" r="1.45" fill="#ff0000"/>
<circle cx="131.8" cy="83.0" r="1.45" fill="#ff0000"/>
<circle cx="134.4" cy="68.1" r="1.45" fill="#ff0000"/>
<circle cx="136.9" cy="54.4" r="1.45" fill="#ff0000"/>
<circle cx="139.5" cy="45.5" r="1.45" fill="#ff0000"/>
<circle cx="142.6" cy="52.4" r="1.45" fill="#ff0000"/>
<circle cx="145.2" cy="51.2" r="1.45" fill="#ff0000"/>
<circle cx="147.9" cy="42.2" r="1.45" fill="#ff0000"/>
<circle cx="149.4" cy="42.2" r="1.45" fill="#ff0000"/>
<circle cx="151.0" cy="42.2" r="1.45" fill="#ff0000"/>
<circle cx="153.2" cy="35.6" r="1.45" fill="#ff0000"/>
<circle cx="156.1" cy="32.2" r="1.45" fill="#ff0000"/>
<circle cx="158.6" cy="29.0" r="1.45" fill="#ff0000"/>
<circle cx="160.1" cy="29.0" r="1.45" fill="#ff0000"/>
<circle cx="161.6" cy="29.0" r="1.45" fill="#ff0000"/>
<circle cx="164.3" cy="27.6" r="1.45" fill="#ff0000"/>
<circle cx="166.8" cy="23.7" r="1.45" fill="#ff0000"/>
<circle cx="169.5" cy="23.7" r="1.45" fill="#ff0000"/>
<circle cx="172.0" cy="27.7" r="1.45" fill="#ff0000"/>
<circle cx="174.8" cy="25.4" r="1.45" fill="#ff0000"/>
<circle cx="177.4" cy="25.4" r="1.45" fill="#ff0000"/>
<circle cx="179.9" cy="25.4" r="1.45" fill="#ff0000"/>
<circle cx="182.9" cy="20.8" r="1.45" fill="#ff0000"/>
<circle cx="185.7" cy="21.7" r="1.45" fill="#ff0000"/>
<circle cx="188.4" cy="24.1" r="1.45" fill="#ff0000"/>
<circle cx="191.1" cy="20.8" r="1.45" fill="#ff0000"/>
<circle cx="193.7" cy="22.1" r="1.45" fill="#ff0000"/>
<circle cx="196.4" cy="22.1" r="1.45" fill="#ff0000"/>
<circle cx="199.4" cy="22.1" r="1.45" fill="#ff0000"/>
<circle cx="201.7" cy="13.8" r="1.45" fill="#ff0000"/>
<circle cx="204.7" cy="15.5" r="1.45" fill="#ff0000"/>
<circle cx="207.4" cy="14.0" r="1.45" fill="#ff0000"/>
<polyline points="48.48,22.00 51.17,22.06 53.87,22.13 56.57,22.21 59.26,22.30 61.96,22.39 64.65,22.50 67.35,22.62 70.04,22.75 72.74,22.90 75.44,23.07 78.13,23.27 80.83,23.49 83.52,23.75 86.22,24.05 88.91,24.40 91.61,24.82 94.31,25.33 97.00,25.94 99.70,26.70 102.39,27.66 105.09,28.88 107.78,30.50 110.48,32.67 113.18,35.69 115.87,40.06 118.57,46.61 121.26,56.73 123.96,72.13 126.65,91.65 129.35,102.52 132.05,91.41 134.74,71.67 137.44,56.25 140.13,46.20 142.83,39.73 145.52,35.42 148.22,32.44 150.92,30.31 153.61,28.73 156.31,27.52 159.00,26.59 161.70,25.84 164.39,25.24 167.09,24.74 169.79,24.33 172.48,23.98 175.18,23.69 177.87,23.44 180.57,23.22 183.26,23.03 185.96,22.86 188.66,22.71 191.35,22.58 194.05,22.47 196.74,22.36 199.44,22.27 202.13,22.18 204.83,22.11 207.53,22.04" fill="none" stroke="#222" stroke-width="1.1" stroke-linejoin="round"/>
<text transform="translate(127.70,159.30) scale(0.95,1.0)" text-anchor="middle" dominant-baseline="central" font-size="8.3" fill="#1a1a1a" stroke="#1a1a1a" stroke-width="0.25" >Z(m)</text>
<text transform="translate(41.80,13.00) scale(0.95,1.0)" text-anchor="start" dominant-baseline="central" font-size="8.4" fill="#1a1a1a" stroke="#1a1a1a" stroke-width="0.25" >a1</text>
<rect x="49.02" y="109.92" width="6.16" height="6.16" fill="#ff0000"/>
<line x1="42.9" y1="122.4" x2="60.6" y2="122.4" stroke="#222" stroke-width="1"/>
<text transform="translate(63.90,113.50) scale(0.915,1.0)" text-anchor="start" dominant-baseline="central" font-size="8.6" fill="#1a1a1a" stroke="#1a1a1a" stroke-width="0.25" >13.23 MW/cm<tspan dx="0.4" dy="-3.6" font-size="4.6">2</tspan></text>
<text transform="translate(63.90,123.40) scale(0.915,1.0)" text-anchor="start" dominant-baseline="central" font-size="8.6" fill="#1a1a1a" stroke="#1a1a1a" stroke-width="0.25" >Theoretical fit</text>
<path d="M237.70,13.90L239.20,16.60L236.20,16.60Z" fill="#00ff00"/>
<path d="M239.70,17.80L241.20,20.50L238.20,20.50Z" fill="#00ff00"/>
<path d="M242.40,13.10L243.90,15.80L240.90,15.80Z" fill="#00ff00"/>
<path d="M245.10,15.00L246.60,17.70L243.60,17.70Z" fill="#00ff00"/>
<path d="M247.80,16.40L249.30,19.10L246.30,19.10Z" fill="#00ff00"/>
<path d="M250.30,21.30L251.80,24.00L248.80,24.00Z" fill="#00ff00"/>
<path d="M253.10,21.30L254.60,24.00L251.60,24.00Z" fill="#00ff00"/>
<path d="M256.00,21.30L257.50,24.00L254.50,24.00Z" fill="#00ff00"/>
<path d="M258.60,19.40L260.10,22.10L257.10,22.10Z" fill="#00ff00"/>
<path d="M261.30,23.00L262.80,25.70L259.80,25.70Z" fill="#00ff00"/>
<path d="M264.00,26.00L265.50,28.70L262.50,28.70Z" fill="#00ff00"/>
<path d="M266.50,29.30L268.00,32.00L265.00,32.00Z" fill="#00ff00"/>
<path d="M269.20,24.30L270.70,27.00L267.70,27.00Z" fill="#00ff00"/>
<path d="M271.90,26.00L273.40,28.70L270.40,28.70Z" fill="#00ff00"/>
<path d="M274.70,27.80L276.20,30.50L273.20,30.50Z" fill="#00ff00"/>
<path d="M277.40,22.40L278.90,25.10L275.90,25.10Z" fill="#00ff00"/>
<path d="M280.10,32.20L281.60,34.90L278.60,34.90Z" fill="#00ff00"/>
<path d="M282.90,35.30L284.40,38.00L281.40,38.00Z" fill="#00ff00"/>
<path d="M285.40,37.30L286.90,40.00L283.90,40.00Z" fill="#00ff00"/>
<path d="M287.60,37.30L289.10,40.00L286.10,40.00Z" fill="#00ff00"/>
<path d="M290.70,32.30L292.20,35.00L289.20,35.00Z" fill="#00ff00"/>
<path d="M293.60,32.30L295.10,35.00L292.10,35.00Z" fill="#00ff00"/>
<path d="M296.40,30.60L297.90,33.30L294.90,33.30Z" fill="#00ff00"/>
<path d="M299.10,32.30L300.60,35.00L297.60,35.00Z" fill="#00ff00"/>
<path d="M301.70,32.30L303.20,35.00L300.20,35.00Z" fill="#00ff00"/>
<path d="M304.00,44.90L305.50,47.60L302.50,47.60Z" fill="#00ff00"/>
<path d="M307.10,53.00L308.60,55.70L305.60,55.70Z" fill="#00ff00"/>
<path d="M309.80,56.40L311.30,59.10L308.30,59.10Z" fill="#00ff00"/>
<path d="M312.60,60.60L314.10,63.30L311.10,63.30Z" fill="#00ff00"/>
<path d="M315.00,88.00L316.50,90.70L313.50,90.70Z" fill="#00ff00"/>
<path d="M317.80,110.10L319.30,112.80L316.30,112.80Z" fill="#00ff00"/>
<path d="M320.50,106.80L322.00,109.50L319.00,109.50Z" fill="#00ff00"/>
<path d="M323.30,83.00L324.80,85.70L321.80,85.70Z" fill="#00ff00"/>
<path d="M325.80,63.00L327.30,65.70L324.30,65.70Z" fill="#00ff00"/>
<path d="M328.90,57.50L330.40,60.20L327.40,60.20Z" fill="#00ff00"/>
<path d="M331.70,48.10L333.20,50.80L330.20,50.80Z" fill="#00ff00"/>
<path d="M334.10,46.60L335.60,49.30L332.60,49.30Z" fill="#00ff00"/>
<path d="M336.80,46.60L338.30,49.30L335.30,49.30Z" fill="#00ff00"/>
<path d="M339.40,44.70L340.90,47.40L337.90,47.40Z" fill="#00ff00"/>
<path d="M342.00,43.40L343.50,46.10L340.50,46.10Z" fill="#00ff00"/>
<path d="M344.80,38.40L346.30,41.10L343.30,41.10Z" fill="#00ff00"/>
<path d="M347.40,32.10L348.90,34.80L345.90,34.80Z" fill="#00ff00"/>
<path d="M350.20,31.10L351.70,33.80L348.70,33.80Z" fill="#00ff00"/>
<path d="M352.70,22.50L354.20,25.20L351.20,25.20Z" fill="#00ff00"/>
<path d="M355.40,30.90L356.90,33.60L353.90,33.60Z" fill="#00ff00"/>
<path d="M358.10,24.70L359.60,27.40L356.60,27.40Z" fill="#00ff00"/>
<path d="M360.80,16.40L362.30,19.10L359.30,19.10Z" fill="#00ff00"/>
<path d="M363.40,19.80L364.90,22.50L361.90,22.50Z" fill="#00ff00"/>
<path d="M366.20,18.10L367.70,20.80L364.70,20.80Z" fill="#00ff00"/>
<path d="M368.80,21.50L370.30,24.20L367.30,24.20Z" fill="#00ff00"/>
<path d="M371.40,19.50L372.90,22.20L369.90,22.20Z" fill="#00ff00"/>
<path d="M374.20,19.50L375.70,22.20L372.70,22.20Z" fill="#00ff00"/>
<path d="M376.80,19.50L378.30,22.20L375.30,22.20Z" fill="#00ff00"/>
<path d="M379.60,19.50L381.10,22.20L378.10,22.20Z" fill="#00ff00"/>
<path d="M382.40,21.50L383.90,24.20L380.90,24.20Z" fill="#00ff00"/>
<path d="M385.00,16.40L386.50,19.10L383.50,19.10Z" fill="#00ff00"/>
<path d="M387.80,16.40L389.30,19.10L386.30,19.10Z" fill="#00ff00"/>
<path d="M390.50,11.90L392.00,14.60L389.00,14.60Z" fill="#00ff00"/>
<path d="M393.30,18.10L394.80,20.80L391.80,20.80Z" fill="#00ff00"/>
<path d="M395.80,18.10L397.30,20.80L394.30,20.80Z" fill="#00ff00"/>
<polyline points="237.17,21.89 239.87,21.99 242.56,22.11 245.25,22.23 247.95,22.37 250.64,22.52 253.34,22.69 256.03,22.87 258.73,23.08 261.42,23.31 264.11,23.57 266.81,23.87 269.50,24.21 272.20,24.59 274.89,25.04 277.59,25.56 280.28,26.18 282.97,26.91 285.67,27.79 288.36,28.87 291.06,30.20 293.75,31.88 296.45,34.04 299.14,36.88 301.83,40.73 304.53,46.07 307.22,53.68 309.92,64.67 312.61,79.98 315.31,97.66 318.00,107.95 320.69,99.71 323.39,80.77 326.08,64.18 328.78,52.60 331.47,44.81 334.17,39.49 336.86,35.72 339.55,32.98 342.25,30.92 344.94,29.33 347.64,28.08 350.33,27.08 353.03,26.26 355.72,25.59 358.41,25.02 361.11,24.54 363.80,24.13 366.50,23.78 369.19,23.47 371.89,23.20 374.58,22.96 377.27,22.75 379.97,22.57 382.66,22.40 385.36,22.25 388.05,22.11 390.75,21.99 393.44,21.87 396.13,21.77" fill="none" stroke="#222" stroke-width="1.1" stroke-linejoin="round"/>
<text transform="translate(317.60,156.50) scale(0.95,1.0)" text-anchor="middle" dominant-baseline="central" font-size="8.3" fill="#1a1a1a" stroke="#1a1a1a" stroke-width="0.25" >Z(m)</text>
<text transform="translate(229.50,15.40) scale(0.95,1.0)" text-anchor="start" dominant-baseline="central" font-size="8.4" fill="#1a1a1a" stroke="#1a1a1a" stroke-width="0.25" >a2</text>
<path d="M239.90,108.72L243.98,116.06L235.82,116.06Z" fill="#00ff00"/>
<line x1="231.0" y1="123.6" x2="247.9" y2="123.6" stroke="#222" stroke-width="1"/>
<text transform="translate(250.90,114.00) scale(0.915,1.0)" text-anchor="start" dominant-baseline="central" font-size="8.6" fill="#1a1a1a" stroke="#1a1a1a" stroke-width="0.25" >44.10 MW/cm<tspan dx="0.4" dy="-3.6" font-size="4.6">2</tspan></text>
<text transform="translate(250.90,124.00) scale(0.915,1.0)" text-anchor="start" dominant-baseline="central" font-size="8.6" fill="#1a1a1a" stroke="#1a1a1a" stroke-width="0.25" >Theoretical fit</text>
<circle cx="425.9" cy="15.3" r="1.45" fill="#0000ff"/>
<circle cx="431.3" cy="14.3" r="1.45" fill="#0000ff"/>
<circle cx="428.4" cy="19.4" r="1.45" fill="#0000ff"/>
<circle cx="433.9" cy="19.4" r="1.45" fill="#0000ff"/>
<circle cx="436.5" cy="23.7" r="1.45" fill="#0000ff"/>
<circle cx="439.3" cy="25.9" r="1.45" fill="#0000ff"/>
<circle cx="442.0" cy="20.2" r="1.45" fill="#0000ff"/>
<circle cx="444.6" cy="23.7" r="1.45" fill="#0000ff"/>
<circle cx="447.3" cy="20.2" r="1.45" fill="#0000ff"/>
<circle cx="450.1" cy="22.0" r="1.45" fill="#0000ff"/>
<circle cx="452.6" cy="25.9" r="1.45" fill="#0000ff"/>
<circle cx="455.2" cy="30.7" r="1.45" fill="#0000ff"/>
<circle cx="458.0" cy="28.7" r="1.45" fill="#0000ff"/>
<circle cx="460.7" cy="23.5" r="1.45" fill="#0000ff"/>
<circle cx="463.5" cy="25.9" r="1.45" fill="#0000ff"/>
<circle cx="466.0" cy="32.0" r="1.45" fill="#0000ff"/>
<circle cx="468.8" cy="26.4" r="1.45" fill="#0000ff"/>
<circle cx="471.5" cy="29.9" r="1.45" fill="#0000ff"/>
<circle cx="474.1" cy="34.9" r="1.45" fill="#0000ff"/>
<circle cx="476.8" cy="44.3" r="1.45" fill="#0000ff"/>
<circle cx="479.6" cy="34.9" r="1.45" fill="#0000ff"/>
<circle cx="482.4" cy="36.2" r="1.45" fill="#0000ff"/>
<circle cx="485.2" cy="34.9" r="1.45" fill="#0000ff"/>
<circle cx="487.8" cy="30.7" r="1.45" fill="#0000ff"/>
<circle cx="490.4" cy="36.8" r="1.45" fill="#0000ff"/>
<circle cx="493.2" cy="43.0" r="1.45" fill="#0000ff"/>
<circle cx="495.9" cy="52.7" r="1.45" fill="#0000ff"/>
<circle cx="498.5" cy="51.2" r="1.45" fill="#0000ff"/>
<circle cx="501.2" cy="60.8" r="1.45" fill="#0000ff"/>
<circle cx="503.7" cy="84.6" r="1.45" fill="#0000ff"/>
<circle cx="506.6" cy="116.6" r="1.45" fill="#0000ff"/>
<circle cx="509.2" cy="110.3" r="1.45" fill="#0000ff"/>
<circle cx="511.9" cy="81.7" r="1.45" fill="#0000ff"/>
<circle cx="514.6" cy="59.8" r="1.45" fill="#0000ff"/>
<circle cx="517.4" cy="52.5" r="1.45" fill="#0000ff"/>
<circle cx="520.0" cy="45.2" r="1.45" fill="#0000ff"/>
<circle cx="522.8" cy="40.8" r="1.45" fill="#0000ff"/>
<circle cx="525.4" cy="45.2" r="1.45" fill="#0000ff"/>
<circle cx="528.0" cy="40.8" r="1.45" fill="#0000ff"/>
<circle cx="530.8" cy="32.8" r="1.45" fill="#0000ff"/>
<circle cx="533.6" cy="31.9" r="1.45" fill="#0000ff"/>
<circle cx="536.3" cy="27.7" r="1.45" fill="#0000ff"/>
<circle cx="539.1" cy="25.2" r="1.45" fill="#0000ff"/>
<circle cx="541.7" cy="26.6" r="1.45" fill="#0000ff"/>
<circle cx="544.2" cy="18.2" r="1.45" fill="#0000ff"/>
<circle cx="546.9" cy="25.9" r="1.45" fill="#0000ff"/>
<circle cx="549.7" cy="20.3" r="1.45" fill="#0000ff"/>
<circle cx="552.3" cy="15.3" r="1.45" fill="#0000ff"/>
<circle cx="555.0" cy="13.2" r="1.45" fill="#0000ff"/>
<circle cx="557.8" cy="16.3" r="1.45" fill="#0000ff"/>
<circle cx="560.3" cy="20.3" r="1.45" fill="#0000ff"/>
<circle cx="563.1" cy="20.3" r="1.45" fill="#0000ff"/>
<circle cx="565.7" cy="18.2" r="1.45" fill="#0000ff"/>
<circle cx="568.3" cy="15.2" r="1.45" fill="#0000ff"/>
<circle cx="571.2" cy="15.4" r="1.45" fill="#0000ff"/>
<circle cx="574.0" cy="13.2" r="1.45" fill="#0000ff"/>
<circle cx="576.6" cy="19.4" r="1.45" fill="#0000ff"/>
<circle cx="579.2" cy="15.2" r="1.45" fill="#0000ff"/>
<circle cx="581.9" cy="16.2" r="1.45" fill="#0000ff"/>
<circle cx="584.8" cy="17.4" r="1.45" fill="#0000ff"/>
<polyline points="425.75,21.97 428.44,22.05 431.13,22.13 433.82,22.22 436.51,22.32 439.20,22.43 441.89,22.56 444.58,22.69 447.27,22.84 449.96,23.01 452.65,23.20 455.34,23.41 458.03,23.65 460.72,23.93 463.41,24.25 466.10,24.63 468.79,25.07 471.48,25.60 474.17,26.23 476.86,27.01 479.55,27.97 482.24,29.19 484.93,30.77 487.62,32.89 490.31,35.80 493.00,39.99 495.69,46.30 498.38,56.30 501.07,72.61 503.76,96.70 506.45,114.44 509.14,101.31 511.83,76.68 514.52,58.95 517.21,48.01 519.90,41.14 522.59,36.62 525.28,33.49 527.97,31.23 530.66,29.55 533.35,28.26 536.04,27.24 538.73,26.43 541.42,25.77 544.11,25.22 546.80,24.76 549.49,24.37 552.18,24.03 554.87,23.74 557.56,23.49 560.25,23.27 562.94,23.07 565.63,22.90 568.32,22.74 571.01,22.61 573.70,22.48 576.39,22.37 579.08,22.26 581.77,22.17 584.46,22.08" fill="none" stroke="#222" stroke-width="1.1" stroke-linejoin="round"/>
<text transform="translate(507.20,156.80) scale(0.95,1.0)" text-anchor="middle" dominant-baseline="central" font-size="8.3" fill="#1a1a1a" stroke="#1a1a1a" stroke-width="0.25" >Z(m)</text>
<text transform="translate(420.20,14.30) scale(0.95,1.0)" text-anchor="start" dominant-baseline="central" font-size="8.4" fill="#1a1a1a" stroke="#1a1a1a" stroke-width="0.25" >a3</text>
<circle cx="427.7" cy="113.7" r="3.48" fill="#0000ff"/>
<line x1="418.6" y1="123.5" x2="436.6" y2="123.5" stroke="#222" stroke-width="1"/>
<text transform="translate(438.60,114.00) scale(0.915,1.0)" text-anchor="start" dominant-baseline="central" font-size="8.6" fill="#1a1a1a" stroke="#1a1a1a" stroke-width="0.25" >66.16 MW/cm<tspan dx="0.4" dy="-3.6" font-size="4.6">2</tspan></text>
<text transform="translate(438.60,124.00) scale(0.915,1.0)" text-anchor="start" dominant-baseline="central" font-size="8.6" fill="#1a1a1a" stroke="#1a1a1a" stroke-width="0.25" >Theoretical fit</text>
<path d="M45.50,203.14L46.86,205.59L44.14,205.59Z" fill="#ff8000" stroke="#ff4000" stroke-width="0.45"/>
<path d="M48.20,207.44L49.56,209.89L46.84,209.89Z" fill="#ff8000" stroke="#ff4000" stroke-width="0.45"/>
<path d="M50.80,212.54L52.16,214.99L49.44,214.99Z" fill="#ff8000" stroke="#ff4000" stroke-width="0.45"/>
<path d="M53.40,206.64L54.76,209.09L52.04,209.09Z" fill="#ff8000" stroke="#ff4000" stroke-width="0.45"/>
<path d="M56.10,207.84L57.46,210.29L54.74,210.29Z" fill="#ff8000" stroke="#ff4000" stroke-width="0.45"/>
<path d="M58.90,201.14L60.26,203.59L57.54,203.59Z" fill="#ff8000" stroke="#ff4000" stroke-width="0.45"/>
<path d="M61.60,217.04L62.96,219.49L60.24,219.49Z" fill="#ff8000" stroke="#ff4000" stroke-width="0.45"/>
<path d="M64.20,206.64L65.56,209.09L62.84,209.09Z" fill="#ff8000" stroke="#ff4000" stroke-width="0.45"/>
<path d="M66.90,206.64L68.26,209.09L65.54,209.09Z" fill="#ff8000" stroke="#ff4000" stroke-width="0.45"/>
<path d="M69.70,208.14L71.06,210.59L68.34,210.59Z" fill="#ff8000" stroke="#ff4000" stroke-width="0.45"/>
<path d="M72.40,208.64L73.76,211.09L71.04,211.09Z" fill="#ff8000" stroke="#ff4000" stroke-width="0.45"/>
<path d="M75.20,207.64L76.56,210.09L73.84,210.09Z" fill="#ff8000" stroke="#ff4000" stroke-width="0.45"/>
<path d="M77.90,201.14L79.26,203.59L76.54,203.59Z" fill="#ff8000" stroke="#ff4000" stroke-width="0.45"/>
<path d="M80.70,217.04L82.06,219.49L79.34,219.49Z" fill="#ff8000" stroke="#ff4000" stroke-width="0.45"/>
<path d="M83.40,207.44L84.76,209.89L82.04,209.89Z" fill="#ff8000" stroke="#ff4000" stroke-width="0.45"/>
<path d="M86.00,212.54L87.36,214.99L84.64,214.99Z" fill="#ff8000" stroke="#ff4000" stroke-width="0.45"/>
<path d="M88.80,206.64L90.16,209.09L87.44,209.09Z" fill="#ff8000" stroke="#ff4000" stroke-width="0.45"/>
<path d="M91.50,214.54L92.86,216.99L90.14,216.99Z" fill="#ff8000" stroke="#ff4000" stroke-width="0.45"/>
<path d="M94.20,209.14L95.56,211.59L92.84,211.59Z" fill="#ff8000" stroke="#ff4000" stroke-width="0.45"/>
<path d="M97.00,206.74L98.36,209.19L95.64,209.19Z" fill="#ff8000" stroke="#ff4000" stroke-width="0.45"/>
<path d="M99.60,203.24L100.96,205.69L98.24,205.69Z" fill="#ff8000" stroke="#ff4000" stroke-width="0.45"/>
<path d="M102.40,212.24L103.76,214.69L101.04,214.69Z" fill="#ff8000" stroke="#ff4000" stroke-width="0.45"/>
<path d="M105.20,214.84L106.56,217.29L103.84,217.29Z" fill="#ff8000" stroke="#ff4000" stroke-width="0.45"/>
<path d="M107.80,220.64L109.16,223.09L106.44,223.09Z" fill="#ff8000" stroke="#ff4000" stroke-width="0.45"/>
<path d="M110.60,218.24L111.96,220.69L109.24,220.69Z" fill="#ff8000" stroke="#ff4000" stroke-width="0.45"/>
<path d="M113.20,214.84L114.56,217.29L111.84,217.29Z" fill="#ff8000" stroke="#ff4000" stroke-width="0.45"/>
<path d="M115.90,224.04L117.26,226.49L114.54,226.49Z" fill="#ff8000" stroke="#ff4000" stroke-width="0.45"/>
<path d="M118.50,229.74L119.86,232.19L117.14,232.19Z" fill="#ff8000" stroke="#ff4000" stroke-width="0.45"/>
<path d="M121.20,243.44L122.56,245.89L119.84,245.89Z" fill="#ff8000" stroke="#ff4000" stroke-width="0.45"/>
<path d="M124.10,272.34L125.46,274.79L122.74,274.79Z" fill="#ff8000" stroke="#ff4000" stroke-width="0.45"/>
<path d="M126.60,298.54L127.96,300.99L125.24,300.99Z" fill="#ff8000" stroke="#ff4000" stroke-width="0.45"/>
<path d="M129.70,294.94L131.06,297.39L128.34,297.39Z" fill="#ff8000" stroke="#ff4000" stroke-width="0.45"/>
<path d="M132.30,283.64L133.66,286.09L130.94,286.09Z" fill="#ff8000" stroke="#ff4000" stroke-width="0.45"/>
<path d="M135.00,269.64L136.36,272.09L133.64,272.09Z" fill="#ff8000" stroke="#ff4000" stroke-width="0.45"/>
<path d="M137.40,252.54L138.76,254.99L136.04,254.99Z" fill="#ff8000" stroke="#ff4000" stroke-width="0.45"/>
<path d="M140.30,241.04L141.66,243.49L138.94,243.49Z" fill="#ff8000" stroke="#ff4000" stroke-width="0.45"/>
<path d="M142.90,229.74L144.26,232.19L141.54,232.19Z" fill="#ff8000" stroke="#ff4000" stroke-width="0.45"/>
<path d="M145.70,220.34L147.06,222.79L144.34,222.79Z" fill="#ff8000" stroke="#ff4000" stroke-width="0.45"/>
<path d="M148.30,224.24L149.66,226.69L146.94,226.69Z" fill="#ff8000" stroke="#ff4000" stroke-width="0.45"/>
<path d="M150.90,212.44L152.26,214.89L149.54,214.89Z" fill="#ff8000" stroke="#ff4000" stroke-width="0.45"/>
<path d="M153.80,212.44L155.16,214.89L152.44,214.89Z" fill="#ff8000" stroke="#ff4000" stroke-width="0.45"/>
<path d="M156.40,215.14L157.76,217.59L155.04,217.59Z" fill="#ff8000" stroke="#ff4000" stroke-width="0.45"/>
<path d="M159.10,209.14L160.46,211.59L157.74,211.59Z" fill="#ff8000" stroke="#ff4000" stroke-width="0.45"/>
<path d="M161.70,212.44L163.06,214.89L160.34,214.89Z" fill="#ff8000" stroke="#ff4000" stroke-width="0.45"/>
<path d="M164.30,209.14L165.66,211.59L162.94,211.59Z" fill="#ff8000" stroke="#ff4000" stroke-width="0.45"/>
<path d="M167.20,214.84L168.56,217.29L165.84,217.29Z" fill="#ff8000" stroke="#ff4000" stroke-width="0.45"/>
<path d="M169.90,214.84L171.26,217.29L168.54,217.29Z" fill="#ff8000" stroke="#ff4000" stroke-width="0.45"/>
<path d="M172.50,218.24L173.86,220.69L171.14,220.69Z" fill="#ff8000" stroke="#ff4000" stroke-width="0.45"/>
<path d="M174.90,209.14L176.26,211.59L173.54,211.59Z" fill="#ff8000" stroke="#ff4000" stroke-width="0.45"/>
<path d="M175.20,208.54L176.56,210.99L173.84,210.99Z" fill="#ff8000" stroke="#ff4000" stroke-width="0.45"/>
<path d="M178.00,208.54L179.36,210.99L176.64,210.99Z" fill="#ff8000" stroke="#ff4000" stroke-width="0.45"/>
<path d="M180.60,208.54L181.96,210.99L179.24,210.99Z" fill="#ff8000" stroke="#ff4000" stroke-width="0.45"/>
<path d="M183.10,212.74L184.46,215.19L181.74,215.19Z" fill="#ff8000" stroke="#ff4000" stroke-width="0.45"/>
<path d="M185.90,212.74L187.26,215.19L184.54,215.19Z" fill="#ff8000" stroke="#ff4000" stroke-width="0.45"/>
<path d="M188.70,218.34L190.06,220.79L187.34,220.79Z" fill="#ff8000" stroke="#ff4000" stroke-width="0.45"/>
<path d="M191.50,218.34L192.86,220.79L190.14,220.79Z" fill="#ff8000" stroke="#ff4000" stroke-width="0.45"/>
<path d="M194.30,212.74L195.66,215.19L192.94,215.19Z" fill="#ff8000" stroke="#ff4000" stroke-width="0.45"/>
<path d="M196.90,212.74L198.26,215.19L195.54,215.19Z" fill="#ff8000" stroke="#ff4000" stroke-width="0.45"/>
<path d="M199.60,214.84L200.96,217.29L198.24,217.29Z" fill="#ff8000" stroke="#ff4000" stroke-width="0.45"/>
<path d="M202.20,218.34L203.56,220.79L200.84,220.79Z" fill="#ff8000" stroke="#ff4000" stroke-width="0.45"/>
<path d="M205.20,220.64L206.56,223.09L203.84,223.09Z" fill="#ff8000" stroke="#ff4000" stroke-width="0.45"/>
<polyline points="45.33,210.25 48.03,210.29 50.74,210.34 53.45,210.39 56.15,210.45 58.86,210.51 61.56,210.59 64.27,210.67 66.97,210.77 69.68,210.88 72.39,211.01 75.09,211.16 77.80,211.34 80.50,211.56 83.21,211.81 85.91,212.12 88.62,212.49 91.33,212.96 94.03,213.55 96.74,214.30 99.44,215.28 102.15,216.58 104.85,218.36 107.56,220.83 110.27,224.39 112.97,229.66 115.68,237.63 118.38,249.72 121.09,266.98 123.79,286.70 126.50,297.59 129.21,289.60 131.91,270.50 134.62,252.51 137.32,239.58 140.03,230.99 142.73,225.31 145.44,221.48 148.15,218.83 150.85,216.94 153.56,215.55 156.26,214.51 158.97,213.72 161.67,213.10 164.38,212.61 167.09,212.21 169.79,211.89 172.50,211.62 175.20,211.40 177.91,211.21 180.61,211.06 183.32,210.92 186.03,210.81 188.73,210.70 191.44,210.62 194.14,210.54 196.85,210.47 199.55,210.41 202.26,210.36 204.97,210.31" fill="none" stroke="#222" stroke-width="1.1" stroke-linejoin="round"/>
<text transform="translate(126.30,337.30) scale(0.95,1.0)" text-anchor="middle" dominant-baseline="central" font-size="8.3" fill="#1a1a1a" stroke="#1a1a1a" stroke-width="0.25" >Z(m)</text>
<text transform="translate(39.90,195.30) scale(0.95,1.0)" text-anchor="start" dominant-baseline="central" font-size="8.4" fill="#1a1a1a" stroke="#1a1a1a" stroke-width="0.25" >b1</text>
<path d="M48.30,290.22L52.38,297.56L44.22,297.56Z" fill="#ff8000" stroke="#ff4a00" stroke-width="0.8"/>
<line x1="39.7" y1="304.6" x2="56.9" y2="304.6" stroke="#222" stroke-width="1"/>
<text transform="translate(60.20,295.60) scale(0.915,1.0)" text-anchor="start" dominant-baseline="central" font-size="8.6" fill="#1a1a1a" stroke="#1a1a1a" stroke-width="0.25" >13.23 MW/cm<tspan dx="0.4" dy="-3.6" font-size="4.6">2</tspan></text>
<text transform="translate(60.20,305.70) scale(0.915,1.0)" text-anchor="start" dominant-baseline="central" font-size="8.6" fill="#1a1a1a" stroke="#1a1a1a" stroke-width="0.25" >Theoretical fit</text>
<circle cx="234.8" cy="202.5" r="1.45" fill="#ff00ff"/>
<circle cx="237.5" cy="212.7" r="1.45" fill="#ff00ff"/>
<circle cx="240.2" cy="210.8" r="1.45" fill="#ff00ff"/>
<circle cx="242.9" cy="210.8" r="1.45" fill="#ff00ff"/>
<circle cx="245.6" cy="212.7" r="1.45" fill="#ff00ff"/>
<circle cx="248.4" cy="210.8" r="1.45" fill="#ff00ff"/>
<circle cx="251.1" cy="212.7" r="1.45" fill="#ff00ff"/>
<circle cx="253.9" cy="207.5" r="1.45" fill="#ff00ff"/>
<circle cx="256.4" cy="210.8" r="1.45" fill="#ff00ff"/>
<circle cx="259.2" cy="210.8" r="1.45" fill="#ff00ff"/>
<circle cx="261.9" cy="207.5" r="1.45" fill="#ff00ff"/>
<circle cx="264.7" cy="202.8" r="1.45" fill="#ff00ff"/>
<circle cx="267.4" cy="202.8" r="1.45" fill="#ff00ff"/>
<circle cx="270.1" cy="200.5" r="1.45" fill="#ff00ff"/>
<circle cx="272.6" cy="200.5" r="1.45" fill="#ff00ff"/>
<circle cx="275.5" cy="202.8" r="1.45" fill="#ff00ff"/>
<circle cx="278.4" cy="205.7" r="1.45" fill="#ff00ff"/>
<circle cx="281.0" cy="202.6" r="1.45" fill="#ff00ff"/>
<circle cx="283.8" cy="202.5" r="1.45" fill="#ff00ff"/>
<circle cx="286.4" cy="207.6" r="1.45" fill="#ff00ff"/>
<circle cx="289.2" cy="200.4" r="1.45" fill="#ff00ff"/>
<circle cx="291.8" cy="205.7" r="1.45" fill="#ff00ff"/>
<circle cx="294.4" cy="197.6" r="1.45" fill="#ff00ff"/>
<circle cx="297.2" cy="217.5" r="1.45" fill="#ff00ff"/>
<circle cx="300.0" cy="215.1" r="1.45" fill="#ff00ff"/>
<circle cx="302.6" cy="212.6" r="1.45" fill="#ff00ff"/>
<circle cx="305.4" cy="215.4" r="1.45" fill="#ff00ff"/>
<circle cx="308.2" cy="220.1" r="1.45" fill="#ff00ff"/>
<circle cx="310.8" cy="237.4" r="1.45" fill="#ff00ff"/>
<circle cx="313.0" cy="257.0" r="1.45" fill="#ff00ff"/>
<circle cx="316.1" cy="264.7" r="1.45" fill="#ff00ff"/>
<circle cx="319.0" cy="259.8" r="1.45" fill="#ff00ff"/>
<circle cx="321.6" cy="250.1" r="1.45" fill="#ff00ff"/>
<circle cx="324.1" cy="235.2" r="1.45" fill="#ff00ff"/>
<circle cx="326.9" cy="232.3" r="1.45" fill="#ff00ff"/>
<circle cx="329.9" cy="215.4" r="1.45" fill="#ff00ff"/>
<circle cx="332.4" cy="205.7" r="1.45" fill="#ff00ff"/>
<circle cx="335.0" cy="202.7" r="1.45" fill="#ff00ff"/>
<circle cx="337.6" cy="198.0" r="1.45" fill="#ff00ff"/>
<circle cx="340.6" cy="195.9" r="1.45" fill="#ff00ff"/>
<circle cx="343.0" cy="207.9" r="1.45" fill="#ff00ff"/>
<circle cx="345.7" cy="205.7" r="1.45" fill="#ff00ff"/>
<circle cx="348.5" cy="202.5" r="1.45" fill="#ff00ff"/>
<circle cx="351.3" cy="205.7" r="1.45" fill="#ff00ff"/>
<circle cx="353.8" cy="205.7" r="1.45" fill="#ff00ff"/>
<circle cx="356.7" cy="207.7" r="1.45" fill="#ff00ff"/>
<circle cx="359.4" cy="200.8" r="1.45" fill="#ff00ff"/>
<circle cx="362.0" cy="197.7" r="1.45" fill="#ff00ff"/>
<circle cx="364.5" cy="202.6" r="1.45" fill="#ff00ff"/>
<circle cx="367.6" cy="205.8" r="1.45" fill="#ff00ff"/>
<circle cx="370.3" cy="200.7" r="1.45" fill="#ff00ff"/>
<circle cx="372.9" cy="202.6" r="1.45" fill="#ff00ff"/>
<circle cx="375.5" cy="207.5" r="1.45" fill="#ff00ff"/>
<circle cx="378.3" cy="205.6" r="1.45" fill="#ff00ff"/>
<circle cx="381.0" cy="210.7" r="1.45" fill="#ff00ff"/>
<circle cx="383.7" cy="212.6" r="1.45" fill="#ff00ff"/>
<circle cx="386.4" cy="200.7" r="1.45" fill="#ff00ff"/>
<circle cx="389.2" cy="195.8" r="1.45" fill="#ff00ff"/>
<circle cx="392.0" cy="202.6" r="1.45" fill="#ff00ff"/>
<circle cx="394.5" cy="210.9" r="1.45" fill="#ff00ff"/>
<polyline points="234.76,210.11 237.48,210.12 240.19,210.13 242.90,210.15 245.62,210.17 248.33,210.19 251.04,210.22 253.75,210.25 256.47,210.28 259.18,210.32 261.89,210.36 264.61,210.41 267.32,210.48 270.03,210.55 272.74,210.64 275.46,210.75 278.17,210.88 280.88,211.04 283.60,211.25 286.31,211.52 289.02,211.88 291.73,212.36 294.45,213.03 297.16,213.98 299.87,215.40 302.59,217.61 305.30,221.21 308.01,227.34 310.72,237.88 313.44,253.79 316.15,266.90 318.86,258.35 321.58,238.18 324.29,225.65 327.00,219.27 329.71,215.92 332.43,214.01 335.14,212.86 337.85,212.12 340.57,211.61 343.28,211.26 345.99,211.00 348.70,210.81 351.42,210.67 354.13,210.55 356.84,210.46 359.56,210.39 362.27,210.33 364.98,210.28 367.69,210.24 370.41,210.21 373.12,210.18 375.83,210.15 378.55,210.13 381.26,210.11 383.97,210.10 386.68,210.08 389.40,210.07 392.11,210.06 394.82,210.05" fill="none" stroke="#222" stroke-width="1.1" stroke-linejoin="round"/>
<text transform="translate(317.20,337.70) scale(0.95,1.0)" text-anchor="middle" dominant-baseline="central" font-size="8.3" fill="#1a1a1a" stroke="#1a1a1a" stroke-width="0.25" >Z(m)</text>
<text transform="translate(229.30,195.50) scale(0.95,1.0)" text-anchor="start" dominant-baseline="central" font-size="8.4" fill="#1a1a1a" stroke="#1a1a1a" stroke-width="0.25" >b2</text>
<rect x="234.62" y="290.92" width="6.16" height="6.16" fill="#ff00ff"/>
<line x1="228.6" y1="303.7" x2="246.6" y2="303.7" stroke="#222" stroke-width="1"/>
<text transform="translate(248.60,294.40) scale(0.915,1.0)" text-anchor="start" dominant-baseline="central" font-size="8.6" fill="#1a1a1a" stroke="#1a1a1a" stroke-width="0.25" >44.10 MW/cm<tspan dx="0.4" dy="-3.6" font-size="4.6">2</tspan></text>
<text transform="translate(248.60,304.40) scale(0.915,1.0)" text-anchor="start" dominant-baseline="central" font-size="8.6" fill="#1a1a1a" stroke="#1a1a1a" stroke-width="0.25" >Theoretical fit</text>
<circle cx="424.8" cy="214.9" r="1.23" fill="#0a300a" stroke="#20b020" stroke-width="0.55"/>
<circle cx="427.5" cy="214.9" r="1.23" fill="#0a300a" stroke="#20b020" stroke-width="0.55"/>
<circle cx="430.1" cy="209.5" r="1.23" fill="#0a300a" stroke="#20b020" stroke-width="0.55"/>
<circle cx="432.9" cy="211.5" r="1.23" fill="#0a300a" stroke="#20b020" stroke-width="0.55"/>
<circle cx="435.6" cy="214.9" r="1.23" fill="#0a300a" stroke="#20b020" stroke-width="0.55"/>
<circle cx="438.2" cy="206.0" r="1.23" fill="#0a300a" stroke="#20b020" stroke-width="0.55"/>
<circle cx="440.9" cy="209.5" r="1.23" fill="#0a300a" stroke="#20b020" stroke-width="0.55"/>
<circle cx="443.7" cy="212.9" r="1.23" fill="#0a300a" stroke="#20b020" stroke-width="0.55"/>
<circle cx="446.6" cy="211.5" r="1.23" fill="#0a300a" stroke="#20b020" stroke-width="0.55"/>
<circle cx="449.1" cy="206.0" r="1.23" fill="#0a300a" stroke="#20b020" stroke-width="0.55"/>
<circle cx="451.9" cy="201.2" r="1.23" fill="#0a300a" stroke="#20b020" stroke-width="0.55"/>
<circle cx="454.7" cy="204.8" r="1.23" fill="#0a300a" stroke="#20b020" stroke-width="0.55"/>
<circle cx="457.4" cy="211.5" r="1.23" fill="#0a300a" stroke="#20b020" stroke-width="0.55"/>
<circle cx="460.1" cy="201.2" r="1.23" fill="#0a300a" stroke="#20b020" stroke-width="0.55"/>
<circle cx="462.8" cy="209.5" r="1.23" fill="#0a300a" stroke="#20b020" stroke-width="0.55"/>
<circle cx="465.6" cy="209.5" r="1.23" fill="#0a300a" stroke="#20b020" stroke-width="0.55"/>
<circle cx="468.2" cy="206.0" r="1.23" fill="#0a300a" stroke="#20b020" stroke-width="0.55"/>
<circle cx="470.8" cy="209.5" r="1.23" fill="#0a300a" stroke="#20b020" stroke-width="0.55"/>
<circle cx="473.6" cy="211.7" r="1.23" fill="#0a300a" stroke="#20b020" stroke-width="0.55"/>
<circle cx="476.1" cy="208.0" r="1.23" fill="#0a300a" stroke="#20b020" stroke-width="0.55"/>
<circle cx="478.7" cy="206.0" r="1.23" fill="#0a300a" stroke="#20b020" stroke-width="0.55"/>
<circle cx="481.7" cy="202.5" r="1.23" fill="#0a300a" stroke="#20b020" stroke-width="0.55"/>
<circle cx="484.5" cy="204.6" r="1.23" fill="#0a300a" stroke="#20b020" stroke-width="0.55"/>
<circle cx="487.1" cy="202.5" r="1.23" fill="#0a300a" stroke="#20b020" stroke-width="0.55"/>
<circle cx="489.7" cy="208.0" r="1.23" fill="#0a300a" stroke="#20b020" stroke-width="0.55"/>
<circle cx="492.4" cy="211.3" r="1.23" fill="#0a300a" stroke="#20b020" stroke-width="0.55"/>
<circle cx="495.2" cy="202.7" r="1.23" fill="#0a300a" stroke="#20b020" stroke-width="0.55"/>
<circle cx="498.0" cy="221.7" r="1.23" fill="#0a300a" stroke="#20b020" stroke-width="0.55"/>
<circle cx="500.5" cy="226.2" r="1.23" fill="#0a300a" stroke="#20b020" stroke-width="0.55"/>
<circle cx="503.3" cy="248.6" r="1.23" fill="#0a300a" stroke="#20b020" stroke-width="0.55"/>
<circle cx="506.0" cy="256.9" r="1.23" fill="#0a300a" stroke="#20b020" stroke-width="0.55"/>
<circle cx="508.7" cy="252.0" r="1.23" fill="#0a300a" stroke="#20b020" stroke-width="0.55"/>
<circle cx="511.4" cy="246.9" r="1.23" fill="#0a300a" stroke="#20b020" stroke-width="0.55"/>
<circle cx="514.1" cy="235.1" r="1.23" fill="#0a300a" stroke="#20b020" stroke-width="0.55"/>
<circle cx="516.7" cy="223.1" r="1.23" fill="#0a300a" stroke="#20b020" stroke-width="0.55"/>
<circle cx="519.3" cy="208.1" r="1.23" fill="#0a300a" stroke="#20b020" stroke-width="0.55"/>
<circle cx="522.2" cy="201.4" r="1.23" fill="#0a300a" stroke="#20b020" stroke-width="0.55"/>
<circle cx="525.0" cy="194.5" r="1.23" fill="#0a300a" stroke="#20b020" stroke-width="0.55"/>
<circle cx="527.4" cy="206.0" r="1.23" fill="#0a300a" stroke="#20b020" stroke-width="0.55"/>
<circle cx="530.2" cy="201.4" r="1.23" fill="#0a300a" stroke="#20b020" stroke-width="0.55"/>
<circle cx="533.0" cy="194.5" r="1.23" fill="#0a300a" stroke="#20b020" stroke-width="0.55"/>
<circle cx="535.5" cy="199.2" r="1.23" fill="#0a300a" stroke="#20b020" stroke-width="0.55"/>
<circle cx="538.4" cy="199.2" r="1.23" fill="#0a300a" stroke="#20b020" stroke-width="0.55"/>
<circle cx="541.0" cy="201.4" r="1.23" fill="#0a300a" stroke="#20b020" stroke-width="0.55"/>
<circle cx="543.8" cy="201.4" r="1.23" fill="#0a300a" stroke="#20b020" stroke-width="0.55"/>
<circle cx="546.6" cy="208.1" r="1.23" fill="#0a300a" stroke="#20b020" stroke-width="0.55"/>
<circle cx="549.1" cy="197.8" r="1.23" fill="#0a300a" stroke="#20b020" stroke-width="0.55"/>
<circle cx="552.0" cy="194.5" r="1.23" fill="#0a300a" stroke="#20b020" stroke-width="0.55"/>
<circle cx="554.6" cy="201.5" r="1.23" fill="#0a300a" stroke="#20b020" stroke-width="0.55"/>
<circle cx="557.6" cy="209.4" r="1.23" fill="#0a300a" stroke="#20b020" stroke-width="0.55"/>
<circle cx="560.1" cy="202.5" r="1.23" fill="#0a300a" stroke="#20b020" stroke-width="0.55"/>
<circle cx="562.9" cy="195.7" r="1.23" fill="#0a300a" stroke="#20b020" stroke-width="0.55"/>
<circle cx="565.5" cy="206.2" r="1.23" fill="#0a300a" stroke="#20b020" stroke-width="0.55"/>
<circle cx="568.3" cy="201.3" r="1.23" fill="#0a300a" stroke="#20b020" stroke-width="0.55"/>
<circle cx="571.0" cy="206.2" r="1.23" fill="#0a300a" stroke="#20b020" stroke-width="0.55"/>
<circle cx="573.8" cy="197.8" r="1.23" fill="#0a300a" stroke="#20b020" stroke-width="0.55"/>
<circle cx="576.4" cy="202.7" r="1.23" fill="#0a300a" stroke="#20b020" stroke-width="0.55"/>
<circle cx="579.1" cy="201.3" r="1.23" fill="#0a300a" stroke="#20b020" stroke-width="0.55"/>
<circle cx="581.7" cy="196.0" r="1.23" fill="#0a300a" stroke="#20b020" stroke-width="0.55"/>
<circle cx="584.7" cy="194.5" r="1.23" fill="#0a300a" stroke="#20b020" stroke-width="0.55"/>
<polyline points="424.63,210.01 427.33,210.01 430.04,210.02 432.75,210.03 435.45,210.04 438.16,210.05 440.86,210.07 443.57,210.08 446.27,210.10 448.98,210.12 451.69,210.14 454.39,210.17 457.10,210.21 459.80,210.25 462.51,210.30 465.21,210.36 467.92,210.44 470.63,210.54 473.33,210.66 476.04,210.83 478.74,211.05 481.45,211.36 484.15,211.80 486.86,212.45 489.57,213.44 492.27,215.04 494.98,217.78 497.68,222.69 500.39,231.67 503.09,245.92 505.80,257.01 508.51,249.14 511.21,233.52 513.92,223.31 516.62,217.89 519.33,214.99 522.03,213.34 524.74,212.34 527.45,211.70 530.15,211.27 532.86,210.97 535.56,210.76 538.27,210.60 540.97,210.48 543.68,210.39 546.39,210.32 549.09,210.26 551.80,210.22 554.50,210.18 557.21,210.15 559.91,210.12 562.62,210.10 565.33,210.08 568.03,210.06 570.74,210.05 573.44,210.04 576.15,210.03 578.85,210.02 581.56,210.01 584.27,210.00" fill="none" stroke="#222" stroke-width="1.1" stroke-linejoin="round"/>
<text transform="translate(508.10,337.30) scale(0.95,1.0)" text-anchor="middle" dominant-baseline="central" font-size="8.3" fill="#1a1a1a" stroke="#1a1a1a" stroke-width="0.25" >Z(m)</text>
<text transform="translate(420.00,195.50) scale(0.95,1.0)" text-anchor="start" dominant-baseline="central" font-size="8.4" fill="#1a1a1a" stroke="#1a1a1a" stroke-width="0.25" >b3</text>
<circle cx="429.3" cy="291.7" r="3.26" fill="#008000" stroke="#0a3a0a" stroke-width="0.6"/>
<line x1="420.6" y1="301.3" x2="437.9" y2="301.3" stroke="#222" stroke-width="1"/>
<text transform="translate(440.60,292.40) scale(0.915,1.0)" text-anchor="start" dominant-baseline="central" font-size="8.6" fill="#1a1a1a" stroke="#1a1a1a" stroke-width="0.25" >66.16 MW/cm<tspan dx="0.4" dy="-3.6" font-size="4.6">2</tspan></text>
<text transform="translate(440.60,302.00) scale(0.915,1.0)" text-anchor="start" dominant-baseline="central" font-size="8.6" fill="#1a1a1a" stroke="#1a1a1a" stroke-width="0.25" >Theoretical fit</text>
<circle cx="47.2" cy="394.7" r="1.30" fill="#00008b"/>
<circle cx="49.8" cy="401.4" r="1.30" fill="#00008b"/>
<circle cx="52.8" cy="393.7" r="1.30" fill="#00008b"/>
<circle cx="55.4" cy="395.4" r="1.30" fill="#00008b"/>
<circle cx="57.9" cy="387.0" r="1.30" fill="#00008b"/>
<circle cx="60.7" cy="400.7" r="1.30" fill="#00008b"/>
<circle cx="63.4" cy="393.7" r="1.30" fill="#00008b"/>
<circle cx="66.1" cy="394.1" r="1.30" fill="#00008b"/>
<circle cx="68.7" cy="395.7" r="1.30" fill="#00008b"/>
<circle cx="71.4" cy="397.1" r="1.30" fill="#00008b"/>
<circle cx="74.2" cy="395.1" r="1.30" fill="#00008b"/>
<circle cx="76.9" cy="387.0" r="1.30" fill="#00008b"/>
<circle cx="79.6" cy="400.7" r="1.30" fill="#00008b"/>
<circle cx="82.2" cy="394.7" r="1.30" fill="#00008b"/>
<circle cx="84.9" cy="392.0" r="1.30" fill="#00008b"/>
<circle cx="87.6" cy="394.9" r="1.30" fill="#00008b"/>
<circle cx="90.1" cy="394.9" r="1.30" fill="#00008b"/>
<circle cx="93.0" cy="387.0" r="1.30" fill="#00008b"/>
<circle cx="95.7" cy="391.0" r="1.30" fill="#00008b"/>
<circle cx="98.7" cy="393.6" r="1.30" fill="#00008b"/>
<circle cx="101.3" cy="395.5" r="1.30" fill="#00008b"/>
<circle cx="103.9" cy="387.1" r="1.30" fill="#00008b"/>
<circle cx="106.5" cy="400.9" r="1.30" fill="#00008b"/>
<circle cx="109.1" cy="394.7" r="1.30" fill="#00008b"/>
<circle cx="111.8" cy="387.1" r="1.30" fill="#00008b"/>
<circle cx="114.4" cy="391.0" r="1.30" fill="#00008b"/>
<circle cx="117.2" cy="393.8" r="1.30" fill="#00008b"/>
<circle cx="120.1" cy="392.8" r="1.30" fill="#00008b"/>
<circle cx="122.5" cy="431.3" r="1.30" fill="#00008b"/>
<circle cx="125.0" cy="476.1" r="1.30" fill="#00008b"/>
<circle cx="127.9" cy="486.7" r="1.30" fill="#00008b"/>
<circle cx="130.7" cy="461.0" r="1.30" fill="#00008b"/>
<circle cx="133.6" cy="438.1" r="1.30" fill="#00008b"/>
<circle cx="136.3" cy="416.8" r="1.30" fill="#00008b"/>
<circle cx="138.8" cy="396.4" r="1.30" fill="#00008b"/>
<circle cx="141.6" cy="399.0" r="1.30" fill="#00008b"/>
<circle cx="144.1" cy="392.0" r="1.30" fill="#00008b"/>
<circle cx="146.7" cy="392.6" r="1.30" fill="#00008b"/>
<circle cx="149.5" cy="394.5" r="1.30" fill="#00008b"/>
<circle cx="152.1" cy="393.9" r="1.30" fill="#00008b"/>
<circle cx="154.8" cy="393.9" r="1.30" fill="#00008b"/>
<circle cx="157.6" cy="389.8" r="1.30" fill="#00008b"/>
<circle cx="160.3" cy="394.5" r="1.30" fill="#00008b"/>
<circle cx="162.9" cy="394.5" r="1.30" fill="#00008b"/>
<circle cx="165.7" cy="401.5" r="1.30" fill="#00008b"/>
<circle cx="168.2" cy="394.6" r="1.30" fill="#00008b"/>
<circle cx="171.0" cy="394.0" r="1.30" fill="#00008b"/>
<circle cx="173.8" cy="378.0" r="1.30" fill="#00008b"/>
<circle cx="176.4" cy="393.8" r="1.30" fill="#00008b"/>
<circle cx="179.0" cy="395.1" r="1.30" fill="#00008b"/>
<circle cx="181.6" cy="394.9" r="1.30" fill="#00008b"/>
<circle cx="184.3" cy="394.7" r="1.30" fill="#00008b"/>
<circle cx="187.0" cy="401.6" r="1.30" fill="#00008b"/>
<circle cx="189.7" cy="394.7" r="1.30" fill="#00008b"/>
<circle cx="192.2" cy="394.9" r="1.30" fill="#00008b"/>
<circle cx="195.2" cy="386.9" r="1.30" fill="#00008b"/>
<circle cx="197.8" cy="401.6" r="1.30" fill="#00008b"/>
<circle cx="200.3" cy="393.7" r="1.30" fill="#00008b"/>
<circle cx="203.1" cy="394.9" r="1.30" fill="#00008b"/>
<circle cx="206.2" cy="386.9" r="1.30" fill="#00008b"/>
<polyline points="47.36,395.90 50.06,395.91 52.75,395.92 55.44,395.93 58.14,395.94 60.83,395.95 63.52,395.96 66.21,395.98 68.91,396.00 71.60,396.02 74.29,396.04 76.99,396.07 79.68,396.11 82.37,396.16 85.06,396.21 87.76,396.28 90.45,396.37 93.14,396.48 95.84,396.63 98.53,396.83 101.22,397.11 103.91,397.50 106.61,398.07 109.30,398.93 111.99,400.33 114.69,402.69 117.38,406.99 120.07,415.38 122.76,432.42 125.46,462.58 128.15,485.09 130.84,462.92 133.54,431.80 136.23,414.66 138.92,406.42 141.61,402.28 144.31,400.03 147.00,398.72 149.69,397.90 152.39,397.37 155.08,397.01 157.77,396.75 160.46,396.57 163.16,396.43 165.85,396.32 168.54,396.24 171.24,396.18 173.93,396.13 176.62,396.09 179.31,396.05 182.01,396.03 184.70,396.00 187.39,395.98 190.09,395.97 192.78,395.95 195.47,395.94 198.16,395.93 200.86,395.92 203.55,395.91 206.24,395.90" fill="none" stroke="#222" stroke-width="1.1" stroke-linejoin="round"/>
<text transform="translate(126.60,519.20) scale(0.95,1.0)" text-anchor="middle" dominant-baseline="central" font-size="8.3" fill="#1a1a1a" stroke="#1a1a1a" stroke-width="0.25" >Z(m)</text>
<text transform="translate(39.80,377.50) scale(0.95,1.0)" text-anchor="start" dominant-baseline="central" font-size="8.4" fill="#1a1a1a" stroke="#1a1a1a" stroke-width="0.25" >c1</text>
<rect x="45.92" y="472.22" width="6.16" height="6.16" fill="#00008b"/>
<line x1="40.0" y1="485.2" x2="57.6" y2="485.2" stroke="#222" stroke-width="1"/>
<text transform="translate(60.20,476.10) scale(0.915,1.0)" text-anchor="start" dominant-baseline="central" font-size="8.6" fill="#1a1a1a" stroke="#1a1a1a" stroke-width="0.25" >13.23 MW/cm<tspan dx="0.4" dy="-3.6" font-size="4.6">2</tspan></text>
<text transform="translate(60.20,485.90) scale(0.915,1.0)" text-anchor="start" dominant-baseline="central" font-size="8.6" fill="#1a1a1a" stroke="#1a1a1a" stroke-width="0.25" >Theoretical fit</text>
<circle cx="235.8" cy="404.9" r="1.28" fill="#ff0070" stroke="#ff0048" stroke-width="0.45"/>
<circle cx="238.5" cy="404.9" r="1.28" fill="#ff0070" stroke="#ff0048" stroke-width="0.45"/>
<circle cx="241.1" cy="399.2" r="1.28" fill="#ff0070" stroke="#ff0048" stroke-width="0.45"/>
<circle cx="243.7" cy="394.7" r="1.28" fill="#ff0070" stroke="#ff0048" stroke-width="0.45"/>
<circle cx="246.6" cy="388.2" r="1.28" fill="#ff0070" stroke="#ff0048" stroke-width="0.45"/>
<circle cx="249.2" cy="399.2" r="1.28" fill="#ff0070" stroke="#ff0048" stroke-width="0.45"/>
<circle cx="251.9" cy="393.7" r="1.28" fill="#ff0070" stroke="#ff0048" stroke-width="0.45"/>
<circle cx="254.7" cy="394.7" r="1.28" fill="#ff0070" stroke="#ff0048" stroke-width="0.45"/>
<circle cx="257.4" cy="393.7" r="1.28" fill="#ff0070" stroke="#ff0048" stroke-width="0.45"/>
<circle cx="260.1" cy="394.7" r="1.28" fill="#ff0070" stroke="#ff0048" stroke-width="0.45"/>
<circle cx="262.7" cy="385.5" r="1.28" fill="#ff0070" stroke="#ff0048" stroke-width="0.45"/>
<circle cx="265.4" cy="391.2" r="1.28" fill="#ff0070" stroke="#ff0048" stroke-width="0.45"/>
<circle cx="268.2" cy="385.5" r="1.28" fill="#ff0070" stroke="#ff0048" stroke-width="0.45"/>
<circle cx="270.9" cy="388.2" r="1.28" fill="#ff0070" stroke="#ff0048" stroke-width="0.45"/>
<circle cx="273.3" cy="394.1" r="1.28" fill="#ff0070" stroke="#ff0048" stroke-width="0.45"/>
<circle cx="276.1" cy="393.7" r="1.28" fill="#ff0070" stroke="#ff0048" stroke-width="0.45"/>
<circle cx="278.8" cy="394.7" r="1.28" fill="#ff0070" stroke="#ff0048" stroke-width="0.45"/>
<circle cx="281.6" cy="385.5" r="1.28" fill="#ff0070" stroke="#ff0048" stroke-width="0.45"/>
<circle cx="284.2" cy="386.6" r="1.28" fill="#ff0070" stroke="#ff0048" stroke-width="0.45"/>
<circle cx="287.0" cy="385.3" r="1.28" fill="#ff0070" stroke="#ff0048" stroke-width="0.45"/>
<circle cx="289.6" cy="388.3" r="1.28" fill="#ff0070" stroke="#ff0048" stroke-width="0.45"/>
<circle cx="292.3" cy="393.9" r="1.28" fill="#ff0070" stroke="#ff0048" stroke-width="0.45"/>
<circle cx="295.1" cy="395.0" r="1.28" fill="#ff0070" stroke="#ff0048" stroke-width="0.45"/>
<circle cx="297.8" cy="385.5" r="1.28" fill="#ff0070" stroke="#ff0048" stroke-width="0.45"/>
<circle cx="300.4" cy="391.4" r="1.28" fill="#ff0070" stroke="#ff0048" stroke-width="0.45"/>
<circle cx="303.0" cy="389.8" r="1.28" fill="#ff0070" stroke="#ff0048" stroke-width="0.45"/>
<circle cx="305.9" cy="388.1" r="1.28" fill="#ff0070" stroke="#ff0048" stroke-width="0.45"/>
<circle cx="308.5" cy="395.0" r="1.28" fill="#ff0070" stroke="#ff0048" stroke-width="0.45"/>
<circle cx="311.3" cy="430.0" r="1.28" fill="#ff0070" stroke="#ff0048" stroke-width="0.45"/>
<circle cx="313.7" cy="449.3" r="1.28" fill="#ff0070" stroke="#ff0048" stroke-width="0.45"/>
<circle cx="316.7" cy="453.3" r="1.28" fill="#ff0070" stroke="#ff0048" stroke-width="0.45"/>
<circle cx="319.3" cy="439.3" r="1.28" fill="#ff0070" stroke="#ff0048" stroke-width="0.45"/>
<circle cx="322.0" cy="436.3" r="1.28" fill="#ff0070" stroke="#ff0048" stroke-width="0.45"/>
<circle cx="324.6" cy="400.6" r="1.28" fill="#ff0070" stroke="#ff0048" stroke-width="0.45"/>
<circle cx="327.2" cy="406.0" r="1.28" fill="#ff0070" stroke="#ff0048" stroke-width="0.45"/>
<circle cx="330.0" cy="399.0" r="1.28" fill="#ff0070" stroke="#ff0048" stroke-width="0.45"/>
<circle cx="332.9" cy="388.1" r="1.28" fill="#ff0070" stroke="#ff0048" stroke-width="0.45"/>
<circle cx="335.2" cy="392.7" r="1.28" fill="#ff0070" stroke="#ff0048" stroke-width="0.45"/>
<circle cx="338.1" cy="393.0" r="1.28" fill="#ff0070" stroke="#ff0048" stroke-width="0.45"/>
<circle cx="340.8" cy="394.0" r="1.28" fill="#ff0070" stroke="#ff0048" stroke-width="0.45"/>
<circle cx="343.5" cy="388.1" r="1.28" fill="#ff0070" stroke="#ff0048" stroke-width="0.45"/>
<circle cx="346.2" cy="393.8" r="1.28" fill="#ff0070" stroke="#ff0048" stroke-width="0.45"/>
<circle cx="349.0" cy="395.0" r="1.28" fill="#ff0070" stroke="#ff0048" stroke-width="0.45"/>
<circle cx="351.4" cy="393.8" r="1.28" fill="#ff0070" stroke="#ff0048" stroke-width="0.45"/>
<circle cx="354.3" cy="394.0" r="1.28" fill="#ff0070" stroke="#ff0048" stroke-width="0.45"/>
<circle cx="357.0" cy="389.4" r="1.28" fill="#ff0070" stroke="#ff0048" stroke-width="0.45"/>
<circle cx="359.5" cy="394.1" r="1.28" fill="#ff0070" stroke="#ff0048" stroke-width="0.45"/>
<circle cx="362.4" cy="388.6" r="1.28" fill="#ff0070" stroke="#ff0048" stroke-width="0.45"/>
<circle cx="365.0" cy="391.6" r="1.28" fill="#ff0070" stroke="#ff0048" stroke-width="0.45"/>
<circle cx="367.7" cy="384.0" r="1.28" fill="#ff0070" stroke="#ff0048" stroke-width="0.45"/>
<circle cx="370.3" cy="388.1" r="1.28" fill="#ff0070" stroke="#ff0048" stroke-width="0.45"/>
<circle cx="373.1" cy="392.1" r="1.28" fill="#ff0070" stroke="#ff0048" stroke-width="0.45"/>
<circle cx="375.9" cy="384.0" r="1.28" fill="#ff0070" stroke="#ff0048" stroke-width="0.45"/>
<circle cx="378.5" cy="377.0" r="1.28" fill="#ff0070" stroke="#ff0048" stroke-width="0.45"/>
<circle cx="381.2" cy="385.3" r="1.28" fill="#ff0070" stroke="#ff0048" stroke-width="0.45"/>
<circle cx="384.0" cy="388.1" r="1.28" fill="#ff0070" stroke="#ff0048" stroke-width="0.45"/>
<circle cx="386.8" cy="388.1" r="1.28" fill="#ff0070" stroke="#ff0048" stroke-width="0.45"/>
<circle cx="389.4" cy="397.7" r="1.28" fill="#ff0070" stroke="#ff0048" stroke-width="0.45"/>
<circle cx="392.0" cy="392.1" r="1.28" fill="#ff0070" stroke="#ff0048" stroke-width="0.45"/>
<circle cx="394.8" cy="392.1" r="1.28" fill="#ff0070" stroke="#ff0048" stroke-width="0.45"/>
<polyline points="235.86,395.22 238.56,395.23 241.25,395.23 243.94,395.24 246.64,395.25 249.33,395.26 252.02,395.27 254.71,395.28 257.41,395.29 260.10,395.31 262.79,395.32 265.49,395.35 268.18,395.37 270.87,395.41 273.56,395.45 276.26,395.50 278.95,395.57 281.64,395.66 284.34,395.77 287.03,395.93 289.72,396.15 292.41,396.46 295.11,396.91 297.80,397.60 300.49,398.70 303.19,400.56 305.88,403.85 308.57,409.98 311.26,421.42 313.96,439.43 316.65,452.80 319.34,440.46 322.04,419.35 324.73,407.44 327.42,401.84 330.11,399.10 332.81,397.66 335.50,396.84 338.19,396.34 340.89,396.03 343.58,395.81 346.27,395.67 348.96,395.56 351.66,395.49 354.35,395.43 357.04,395.38 359.74,395.35 362.43,395.32 365.12,395.30 367.81,395.28 370.51,395.27 373.20,395.26 375.89,395.25 378.59,395.24 381.28,395.23 383.97,395.23 386.66,395.22 389.36,395.22 392.05,395.21 394.74,395.21" fill="none" stroke="#222" stroke-width="1.1" stroke-linejoin="round"/>
<text transform="translate(318.20,520.30) scale(0.95,1.0)" text-anchor="middle" dominant-baseline="central" font-size="8.3" fill="#1a1a1a" stroke="#1a1a1a" stroke-width="0.25" >Z(m)</text>
<text transform="translate(231.80,378.00) scale(0.95,1.0)" text-anchor="start" dominant-baseline="central" font-size="8.4" fill="#1a1a1a" stroke="#1a1a1a" stroke-width="0.25" >c2</text>
<circle cx="239.6" cy="476.0" r="3.48" fill="#ff0090" stroke="#ff0048" stroke-width="0.9"/>
<line x1="230.6" y1="485.9" x2="247.9" y2="485.9" stroke="#222" stroke-width="1"/>
<text transform="translate(250.60,476.30) scale(0.915,1.0)" text-anchor="start" dominant-baseline="central" font-size="8.6" fill="#1a1a1a" stroke="#1a1a1a" stroke-width="0.25" >44.10 MW/cm<tspan dx="0.4" dy="-3.6" font-size="4.6">2</tspan></text>
<text transform="translate(250.60,486.60) scale(0.915,1.0)" text-anchor="start" dominant-baseline="central" font-size="8.6" fill="#1a1a1a" stroke="#1a1a1a" stroke-width="0.25" >Theoretical fit</text>
<path d="M424.50,386.86L425.86,384.41L423.14,384.41Z" fill="#2a2a00" stroke="#a0a000" stroke-width="0.5"/>
<path d="M427.20,387.56L428.56,385.11L425.84,385.11Z" fill="#2a2a00" stroke="#a0a000" stroke-width="0.5"/>
<path d="M430.00,385.56L431.36,383.11L428.64,383.11Z" fill="#2a2a00" stroke="#a0a000" stroke-width="0.5"/>
<path d="M432.60,391.76L433.96,389.31L431.24,389.31Z" fill="#2a2a00" stroke="#a0a000" stroke-width="0.5"/>
<path d="M435.40,391.76L436.76,389.31L434.04,389.31Z" fill="#2a2a00" stroke="#a0a000" stroke-width="0.5"/>
<path d="M438.10,385.86L439.46,383.41L436.74,383.41Z" fill="#2a2a00" stroke="#a0a000" stroke-width="0.5"/>
<path d="M440.90,385.86L442.26,383.41L439.54,383.41Z" fill="#2a2a00" stroke="#a0a000" stroke-width="0.5"/>
<path d="M443.70,383.56L445.06,381.11L442.34,381.11Z" fill="#2a2a00" stroke="#a0a000" stroke-width="0.5"/>
<path d="M446.40,383.56L447.76,381.11L445.04,381.11Z" fill="#2a2a00" stroke="#a0a000" stroke-width="0.5"/>
<path d="M449.10,383.56L450.46,381.11L447.74,381.11Z" fill="#2a2a00" stroke="#a0a000" stroke-width="0.5"/>
<path d="M451.90,383.56L453.26,381.11L450.54,381.11Z" fill="#2a2a00" stroke="#a0a000" stroke-width="0.5"/>
<path d="M454.40,374.36L455.76,371.91L453.04,371.91Z" fill="#2a2a00" stroke="#a0a000" stroke-width="0.5"/>
<path d="M457.10,381.16L458.46,378.71L455.74,378.71Z" fill="#2a2a00" stroke="#a0a000" stroke-width="0.5"/>
<path d="M459.90,383.56L461.26,381.11L458.54,381.11Z" fill="#2a2a00" stroke="#a0a000" stroke-width="0.5"/>
<path d="M462.50,380.16L463.86,377.71L461.14,377.71Z" fill="#2a2a00" stroke="#a0a000" stroke-width="0.5"/>
<path d="M465.30,385.86L466.66,383.41L463.94,383.41Z" fill="#2a2a00" stroke="#a0a000" stroke-width="0.5"/>
<path d="M468.00,385.86L469.36,383.41L466.64,383.41Z" fill="#2a2a00" stroke="#a0a000" stroke-width="0.5"/>
<path d="M470.50,380.96L471.86,378.51L469.14,378.51Z" fill="#2a2a00" stroke="#a0a000" stroke-width="0.5"/>
<path d="M473.30,383.26L474.66,380.81L471.94,380.81Z" fill="#2a2a00" stroke="#a0a000" stroke-width="0.5"/>
<path d="M476.00,385.86L477.36,383.41L474.64,383.41Z" fill="#2a2a00" stroke="#a0a000" stroke-width="0.5"/>
<path d="M478.80,385.86L480.16,383.41L477.44,383.41Z" fill="#2a2a00" stroke="#a0a000" stroke-width="0.5"/>
<path d="M481.40,381.66L482.76,379.21L480.04,379.21Z" fill="#2a2a00" stroke="#a0a000" stroke-width="0.5"/>
<path d="M484.00,385.66L485.36,383.21L482.64,383.21Z" fill="#2a2a00" stroke="#a0a000" stroke-width="0.5"/>
<path d="M486.70,385.66L488.06,383.21L485.34,383.21Z" fill="#2a2a00" stroke="#a0a000" stroke-width="0.5"/>
<path d="M489.50,380.36L490.86,377.91L488.14,377.91Z" fill="#2a2a00" stroke="#a0a000" stroke-width="0.5"/>
<path d="M492.10,385.46L493.46,383.01L490.74,383.01Z" fill="#2a2a00" stroke="#a0a000" stroke-width="0.5"/>
<path d="M494.80,386.36L496.16,383.91L493.44,383.91Z" fill="#2a2a00" stroke="#a0a000" stroke-width="0.5"/>
<path d="M497.50,397.06L498.86,394.61L496.14,394.61Z" fill="#2a2a00" stroke="#a0a000" stroke-width="0.5"/>
<path d="M500.20,402.36L501.56,399.91L498.84,399.91Z" fill="#2a2a00" stroke="#a0a000" stroke-width="0.5"/>
<path d="M502.70,440.06L504.06,437.61L501.34,437.61Z" fill="#2a2a00" stroke="#a0a000" stroke-width="0.5"/>
<path d="M505.70,440.06L507.06,437.61L504.34,437.61Z" fill="#2a2a00" stroke="#a0a000" stroke-width="0.5"/>
<path d="M508.00,428.76L509.36,426.31L506.64,426.31Z" fill="#2a2a00" stroke="#a0a000" stroke-width="0.5"/>
<path d="M510.70,417.46L512.06,415.01L509.34,415.01Z" fill="#2a2a00" stroke="#a0a000" stroke-width="0.5"/>
<path d="M513.60,402.76L514.96,400.31L512.24,400.31Z" fill="#2a2a00" stroke="#a0a000" stroke-width="0.5"/>
<path d="M516.20,388.96L517.56,386.51L514.84,386.51Z" fill="#2a2a00" stroke="#a0a000" stroke-width="0.5"/>
<path d="M518.80,383.56L520.16,381.11L517.44,381.11Z" fill="#2a2a00" stroke="#a0a000" stroke-width="0.5"/>
<path d="M521.70,374.66L523.06,372.21L520.34,372.21Z" fill="#2a2a00" stroke="#a0a000" stroke-width="0.5"/>
<path d="M524.20,381.06L525.56,378.61L522.84,378.61Z" fill="#2a2a00" stroke="#a0a000" stroke-width="0.5"/>
<path d="M526.90,383.56L528.26,381.11L525.54,381.11Z" fill="#2a2a00" stroke="#a0a000" stroke-width="0.5"/>
<path d="M529.60,380.36L530.96,377.91L528.24,377.91Z" fill="#2a2a00" stroke="#a0a000" stroke-width="0.5"/>
<path d="M532.40,380.36L533.76,377.91L531.04,377.91Z" fill="#2a2a00" stroke="#a0a000" stroke-width="0.5"/>
<path d="M535.10,385.16L536.46,382.71L533.74,382.71Z" fill="#2a2a00" stroke="#a0a000" stroke-width="0.5"/>
<path d="M537.70,380.36L539.06,377.91L536.34,377.91Z" fill="#2a2a00" stroke="#a0a000" stroke-width="0.5"/>
<path d="M540.40,383.56L541.76,381.11L539.04,381.11Z" fill="#2a2a00" stroke="#a0a000" stroke-width="0.5"/>
<path d="M543.10,385.16L544.46,382.71L541.74,382.71Z" fill="#2a2a00" stroke="#a0a000" stroke-width="0.5"/>
<path d="M546.00,385.76L547.36,383.31L544.64,383.31Z" fill="#2a2a00" stroke="#a0a000" stroke-width="0.5"/>
<path d="M548.60,385.96L549.96,383.51L547.24,383.51Z" fill="#2a2a00" stroke="#a0a000" stroke-width="0.5"/>
<path d="M551.20,374.56L552.56,372.11L549.84,372.11Z" fill="#2a2a00" stroke="#a0a000" stroke-width="0.5"/>
<path d="M553.80,389.26L555.16,386.81L552.44,386.81Z" fill="#2a2a00" stroke="#a0a000" stroke-width="0.5"/>
<path d="M556.60,384.46L557.96,382.01L555.24,382.01Z" fill="#2a2a00" stroke="#a0a000" stroke-width="0.5"/>
<path d="M559.10,377.66L560.46,375.21L557.74,375.21Z" fill="#2a2a00" stroke="#a0a000" stroke-width="0.5"/>
<path d="M561.70,381.26L563.06,378.81L560.34,378.81Z" fill="#2a2a00" stroke="#a0a000" stroke-width="0.5"/>
<path d="M564.50,381.26L565.86,378.81L563.14,378.81Z" fill="#2a2a00" stroke="#a0a000" stroke-width="0.5"/>
<path d="M567.10,383.56L568.46,381.11L565.74,381.11Z" fill="#2a2a00" stroke="#a0a000" stroke-width="0.5"/>
<path d="M569.90,380.16L571.26,377.71L568.54,377.71Z" fill="#2a2a00" stroke="#a0a000" stroke-width="0.5"/>
<path d="M572.70,383.26L574.06,380.81L571.34,380.81Z" fill="#2a2a00" stroke="#a0a000" stroke-width="0.5"/>
<path d="M575.20,384.96L576.56,382.51L573.84,382.51Z" fill="#2a2a00" stroke="#a0a000" stroke-width="0.5"/>
<path d="M578.00,385.86L579.36,383.41L576.64,383.41Z" fill="#2a2a00" stroke="#a0a000" stroke-width="0.5"/>
<path d="M580.80,380.16L582.16,377.71L579.44,377.71Z" fill="#2a2a00" stroke="#a0a000" stroke-width="0.5"/>
<path d="M583.60,377.66L584.96,375.21L582.24,375.21Z" fill="#2a2a00" stroke="#a0a000" stroke-width="0.5"/>
<polyline points="424.37,385.39 427.07,385.40 429.76,385.40 432.45,385.41 435.15,385.42 437.84,385.43 440.54,385.43 443.23,385.45 445.93,385.46 448.62,385.47 451.31,385.49 454.01,385.51 456.70,385.53 459.40,385.56 462.09,385.60 464.79,385.64 467.48,385.69 470.17,385.76 472.87,385.84 475.56,385.95 478.26,386.10 480.95,386.30 483.65,386.59 486.34,387.02 489.03,387.69 491.73,388.81 494.42,390.82 497.12,394.84 499.81,403.73 502.51,422.90 505.20,439.51 507.89,424.28 510.59,406.34 513.28,396.89 515.98,392.25 518.67,389.80 521.37,388.41 524.06,387.56 526.75,387.00 529.45,386.62 532.14,386.36 534.84,386.16 537.53,386.01 540.23,385.90 542.92,385.81 545.61,385.75 548.31,385.69 551.00,385.64 553.70,385.61 556.39,385.57 559.09,385.55 561.78,385.52 564.47,385.50 567.17,385.49 569.86,385.47 572.56,385.46 575.25,385.45 577.95,385.44 580.64,385.43 583.33,385.42" fill="none" stroke="#222" stroke-width="1.1" stroke-linejoin="round"/>
<text transform="translate(507.10,518.30) scale(0.95,1.0)" text-anchor="middle" dominant-baseline="central" font-size="8.3" fill="#1a1a1a" stroke="#1a1a1a" stroke-width="0.25" >Z(m)</text>
<text transform="translate(417.00,376.20) scale(0.95,1.0)" text-anchor="start" dominant-baseline="central" font-size="8.4" fill="#1a1a1a" stroke="#1a1a1a" stroke-width="0.25" >c3</text>
<path d="M429.00,481.48L433.08,474.14L424.92,474.14Z" fill="#808000" stroke="#3a3a00" stroke-width="0.6"/>
<line x1="420.2" y1="485.9" x2="437.5" y2="485.9" stroke="#222" stroke-width="1"/>
<text transform="translate(439.90,477.40) scale(0.915,1.0)" text-anchor="start" dominant-baseline="central" font-size="8.6" fill="#1a1a1a" stroke="#1a1a1a" stroke-width="0.25" >66.16 MW/cm<tspan dx="0.4" dy="-3.6" font-size="4.6">2</tspan></text>
<text transform="translate(439.90,486.60) scale(0.915,1.0)" text-anchor="start" dominant-baseline="central" font-size="8.6" fill="#1a1a1a" stroke="#1a1a1a" stroke-width="0.25" >Theoretical fit</text>
<rect x="35.0" y="5.2" width="565.6" height="131.2" fill="none" stroke="#3c3c3c" stroke-width="1.2"/>
<line x1="223.7" y1="5.2" x2="223.7" y2="136.4" stroke="#3c3c3c" stroke-width="1.2"/>
<line x1="412.3" y1="5.2" x2="412.3" y2="136.4" stroke="#3c3c3c" stroke-width="1.2"/>
<rect x="31.8" y="185.7" width="568.7" height="132.1" fill="none" stroke="#3c3c3c" stroke-width="1.2"/>
<line x1="221.2" y1="185.7" x2="221.2" y2="317.8" stroke="#3c3c3c" stroke-width="1.2"/>
<line x1="411.1" y1="185.7" x2="411.1" y2="317.8" stroke="#3c3c3c" stroke-width="1.2"/>
<rect x="33.9" y="366.3" width="565.6" height="132.2" fill="none" stroke="#3c3c3c" stroke-width="1.2"/>
<line x1="222.4" y1="366.3" x2="222.4" y2="498.5" stroke="#3c3c3c" stroke-width="1.2"/>
<line x1="410.9" y1="366.3" x2="410.9" y2="498.5" stroke="#3c3c3c" stroke-width="1.2"/>
</svg></body></html>
